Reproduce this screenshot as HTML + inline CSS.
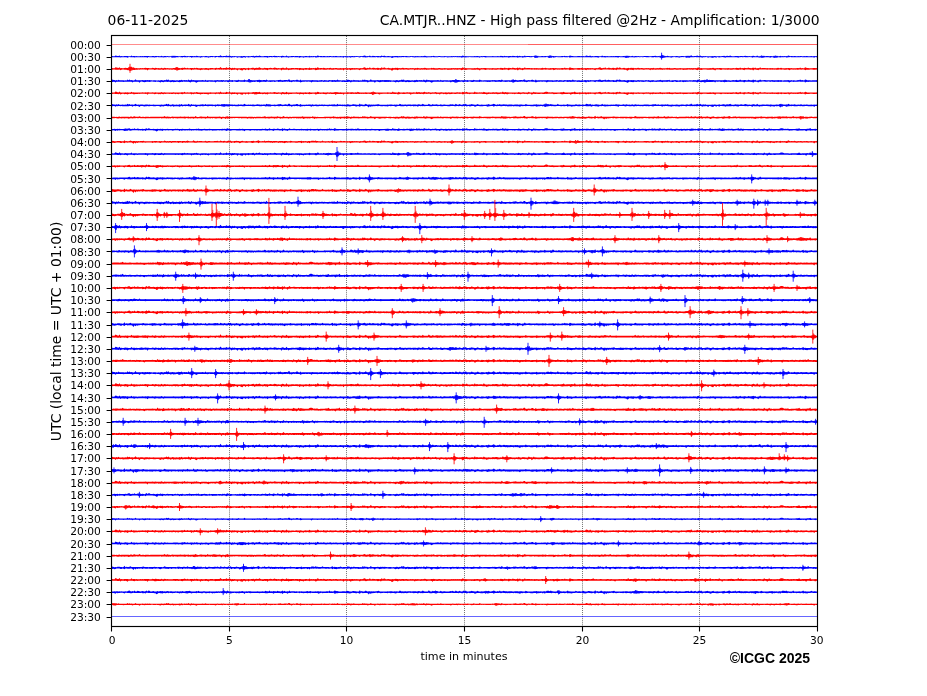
<!DOCTYPE html>
<html><head><meta charset="utf-8"><style>
html,body{margin:0;padding:0;background:#fff;}
svg{display:block;}
text{font-family:"DejaVu Sans","Liberation Sans",sans-serif;fill:#000;}
.tl{font-size:10.65px;}
.tt{font-size:13.9px;}
.xl{font-size:11.1px;}
.cp{font-family:"Liberation Sans",Arial,sans-serif;font-weight:bold;font-size:14px;}
</style></head><body>
<svg width="927" height="696" viewBox="0 0 927 696">
<rect width="927" height="696" fill="#fff"/>
<defs>
<clipPath id="ax"><rect x="111.5" y="35.5" width="706.0" height="591.0"/></clipPath>
<path id="t0" d="M0,-0.8 L1,-1.2 2,-0.8 3,-0.6 4,-0.7 5,-0.6 6,-1.0 7,-1.0 8,-0.9 9,-0.8 10,-0.7 11,-0.6 12,-0.7 13,-1.8 14,-0.6 15,-1.0 16,-0.7 17,-0.7 18,-0.9 19,-1.5 20,-0.8 21,-0.7 22,-0.8 23,-0.8 24,-0.7 25,-0.8 26,-0.7 27,-0.8 28,-0.7 29,-0.8 30,-0.8 31,-1.0 32,-1.2 33,-0.7 34,-0.7 35,-0.7 36,-0.7 37,-0.6 38,-0.7 39,-0.7 40,-0.7 41,-0.8 42,-0.7 43,-0.9 44,-0.8 45,-0.8 46,-0.6 47,-0.7 48,-0.8 49,-0.7 50,-0.8 51,-0.6 52,-0.7 53,-1.5 54,-1.0 55,-0.7 56,-0.8 57,-0.7 58,-0.8 59,-0.8 60,-0.7 61,-0.8 62,-0.8 63,-0.8 64,-0.8 65,-0.6 66,-0.9 67,-0.9 68,-0.9 69,-0.8 70,-0.7 71,-0.8 72,-1.0 73,-0.9 74,-0.7 75,-0.8 76,-1.5 77,-0.8 78,-0.7 79,-0.7 80,-0.7 81,-0.6 82,-1.7 83,-0.9 84,-0.7 85,-0.7 86,-1.3 87,-0.7 88,-0.8 89,-0.9 90,-1.0 91,-0.6 92,-0.7 93,-0.6 94,-1.2 95,-0.6 96,-0.6 97,-0.9 98,-0.9 99,-0.7 100,-0.7 101,-0.7 102,-0.7 103,-0.9 104,-1.0 105,-0.8 106,-1.2 107,-0.7 108,-0.6 109,-1.5 110,-0.9 111,-0.7 112,-0.8 113,-1.3 114,-0.7 115,-0.7 116,-0.8 117,-1.4 118,-0.8 119,-1.5 120,-0.7 121,-0.7 122,-0.7 123,-0.8 124,-0.8 125,-1.3 126,-0.8 127,-0.8 128,-0.6 129,-0.7 130,-0.8 131,-1.3 132,-0.7 133,-0.6 134,-0.6 135,-0.9 136,-0.7 137,-0.7 138,-0.6 139,-0.7 140,-0.9 141,-0.8 142,-1.3 143,-0.7 144,-0.7 145,-0.8 146,-1.1 147,-1.6 148,-1.0 149,-0.6 150,-0.6 151,-1.0 152,-0.7 153,-1.4 154,-0.7 155,-0.8 156,-0.8 157,-1.2 158,-0.9 159,-0.8 160,-0.9 161,-0.7 162,-0.8 163,-0.8 164,-0.9 165,-0.8 166,-0.7 167,-0.7 168,-0.8 169,-0.9 170,-0.8 171,-0.9 172,-0.6 173,-0.8 174,-0.8 175,-0.8 176,-0.7 177,-0.7 178,-0.7 179,-1.3 180,-0.8 181,-0.7 182,-0.7 183,-0.7 184,-0.6 185,-0.7 186,-0.7 187,-0.8 188,-0.8 189,-0.8 190,-1.1 191,-0.6 192,-0.8 193,-0.7 194,-0.8 195,-0.7 196,-0.7 197,-0.8 198,-0.8 199,-0.6 200,-1.2 201,-1.2 202,-1.2 203,-0.8 204,-1.4 205,-0.9 206,-0.9 207,-0.7 208,-0.7 209,-0.7 210,-0.7 211,-1.5 212,-0.7 213,-0.7 214,-0.7 215,-0.7 216,-0.7 217,-0.8 218,-0.6 219,-0.6 220,-0.9 221,-1.4 222,-0.6 223,-0.9 224,-0.7 225,-0.7 226,-0.6 227,-0.7 228,-0.7 229,-1.2 230,-0.8 231,-0.6 232,-0.8 233,-0.8 234,-0.7 235,-0.7 236,-0.7 L236,0.7 235,0.6 234,0.7 233,0.8 232,0.8 231,0.8 230,0.6 229,0.6 228,0.8 227,0.8 226,0.8 225,1.3 224,1.0 223,1.0 222,0.7 221,1.3 220,0.6 219,0.7 218,0.9 217,0.8 216,0.7 215,0.8 214,0.9 213,0.6 212,0.7 211,0.7 210,0.6 209,0.9 208,0.8 207,0.8 206,0.6 205,0.9 204,0.7 203,0.7 202,0.8 201,0.7 200,0.8 199,0.6 198,1.5 197,0.6 196,1.2 195,0.6 194,0.7 193,0.8 192,0.9 191,0.8 190,1.4 189,0.8 188,0.7 187,0.8 186,1.0 185,1.0 184,0.9 183,0.7 182,0.6 181,0.7 180,0.7 179,0.9 178,0.7 177,0.6 176,0.9 175,0.7 174,0.9 173,1.5 172,0.9 171,0.9 170,0.8 169,0.9 168,0.6 167,1.1 166,0.7 165,0.8 164,0.8 163,1.0 162,0.8 161,1.1 160,0.7 159,1.0 158,0.7 157,0.7 156,0.6 155,0.8 154,0.9 153,0.6 152,0.7 151,0.7 150,0.8 149,0.7 148,0.7 147,1.4 146,0.7 145,0.7 144,0.7 143,0.8 142,0.9 141,1.3 140,1.0 139,0.6 138,0.7 137,0.7 136,0.9 135,1.0 134,0.9 133,0.8 132,0.7 131,0.7 130,0.7 129,1.2 128,1.5 127,0.7 126,0.7 125,0.7 124,0.8 123,1.1 122,0.6 121,0.7 120,1.2 119,0.7 118,0.7 117,0.6 116,1.0 115,0.9 114,0.7 113,0.6 112,0.9 111,0.7 110,0.7 109,0.8 108,0.8 107,0.7 106,0.7 105,0.6 104,0.7 103,0.8 102,0.8 101,0.8 100,0.7 99,0.7 98,0.7 97,0.7 96,1.0 95,1.0 94,0.8 93,0.7 92,0.6 91,0.8 90,0.6 89,0.7 88,0.7 87,0.7 86,0.7 85,1.0 84,1.0 83,1.0 82,0.6 81,0.7 80,0.7 79,0.7 78,0.8 77,0.7 76,0.9 75,0.7 74,0.9 73,0.6 72,0.7 71,1.3 70,0.7 69,0.8 68,0.7 67,1.1 66,0.7 65,0.6 64,0.8 63,0.6 62,0.6 61,0.7 60,1.1 59,0.7 58,0.7 57,1.0 56,0.8 55,0.9 54,0.8 53,0.7 52,0.7 51,0.6 50,0.8 49,1.3 48,1.0 47,0.7 46,0.7 45,0.7 44,0.9 43,0.7 42,0.6 41,1.1 40,0.8 39,0.8 38,0.8 37,0.6 36,0.8 35,0.8 34,0.9 33,0.7 32,0.6 31,1.0 30,0.6 29,0.6 28,0.8 27,0.7 26,1.1 25,0.7 24,1.6 23,0.7 22,2.1 21,1.1 20,0.7 19,0.7 18,0.8 17,0.8 16,0.9 15,0.6 14,0.6 13,1.4 12,0.9 11,0.6 10,1.1 9,1.1 8,0.7 7,0.7 6,0.6 5,0.7 4,1.0 3,1.2 2,0.9 1,1.0 0,0.8Z"/>
<path id="t1" d="M0,-0.7 L1,-1.4 2,-0.9 3,-0.9 4,-0.6 5,-1.0 6,-0.6 7,-1.3 8,-0.7 9,-0.7 10,-0.7 11,-0.8 12,-0.7 13,-0.6 14,-0.8 15,-0.6 16,-1.6 17,-0.8 18,-1.4 19,-0.7 20,-0.9 21,-0.8 22,-0.6 23,-0.8 24,-1.7 25,-0.8 26,-0.7 27,-0.8 28,-0.7 29,-0.8 30,-0.8 31,-0.9 32,-0.7 33,-0.7 34,-0.9 35,-0.8 36,-0.9 37,-0.7 38,-0.9 39,-0.7 40,-0.7 41,-0.6 42,-0.8 43,-0.7 44,-0.7 45,-0.6 46,-0.6 47,-0.7 48,-0.6 49,-0.7 50,-0.9 51,-0.7 52,-0.6 53,-0.9 54,-0.8 55,-1.6 56,-0.9 57,-1.6 58,-0.6 59,-0.7 60,-0.7 61,-1.0 62,-0.8 63,-0.7 64,-0.6 65,-0.8 66,-0.7 67,-0.6 68,-1.0 69,-0.7 70,-1.3 71,-0.7 72,-0.7 73,-0.9 74,-0.8 75,-0.9 76,-0.6 77,-1.5 78,-0.8 79,-0.7 80,-1.4 81,-0.7 82,-0.9 83,-0.7 84,-0.8 85,-0.7 86,-0.7 87,-0.7 88,-0.7 89,-0.8 90,-0.8 91,-1.0 92,-0.8 93,-0.6 94,-1.3 95,-0.6 96,-0.8 97,-0.8 98,-0.8 99,-0.8 100,-0.8 101,-0.8 102,-0.6 103,-0.7 104,-0.8 105,-0.7 106,-1.0 107,-0.8 108,-0.8 109,-0.7 110,-1.0 111,-0.8 112,-0.9 113,-0.6 114,-0.7 115,-0.8 116,-0.7 117,-0.8 118,-1.1 119,-0.8 120,-0.8 121,-0.9 122,-0.6 123,-0.8 124,-0.7 125,-0.7 126,-0.7 127,-1.2 128,-0.7 129,-0.8 130,-0.8 131,-0.7 132,-0.8 133,-1.5 134,-0.8 135,-0.7 136,-0.6 137,-0.8 138,-0.7 139,-0.8 140,-0.7 141,-0.8 142,-0.8 143,-0.7 144,-0.7 145,-0.8 146,-1.0 147,-0.8 148,-0.9 149,-0.7 150,-0.8 151,-0.7 152,-0.9 153,-0.9 154,-0.7 155,-1.6 156,-0.7 157,-0.6 158,-0.7 159,-0.7 160,-0.7 161,-0.7 162,-0.7 163,-0.8 164,-0.6 165,-0.7 166,-0.8 167,-1.1 168,-1.0 169,-1.3 170,-0.8 171,-0.7 172,-0.7 173,-0.9 174,-1.0 175,-0.9 176,-0.7 177,-1.5 178,-1.5 179,-0.6 180,-0.7 181,-0.7 182,-0.9 183,-0.8 184,-0.8 185,-1.3 186,-1.3 187,-0.7 188,-0.6 189,-1.4 190,-0.6 191,-0.7 192,-0.7 193,-0.7 194,-0.7 195,-0.8 196,-0.7 197,-0.8 198,-0.8 199,-0.8 200,-0.7 201,-1.0 202,-0.7 203,-0.7 204,-0.8 205,-0.8 206,-0.7 207,-0.6 208,-0.8 209,-0.7 210,-0.9 211,-0.8 212,-0.6 213,-0.9 214,-0.7 215,-0.7 216,-0.6 217,-0.7 218,-0.9 219,-0.7 220,-0.8 221,-0.9 222,-0.8 223,-1.1 224,-0.7 225,-0.7 226,-1.6 227,-0.7 228,-0.8 229,-0.8 230,-0.6 231,-0.8 232,-0.7 233,-0.8 234,-0.6 235,-0.7 236,-0.7 L236,1.0 235,0.9 234,0.9 233,1.0 232,0.7 231,1.0 230,0.7 229,0.6 228,0.7 227,0.7 226,0.8 225,0.8 224,0.9 223,0.8 222,0.8 221,0.9 220,0.7 219,0.6 218,0.6 217,0.9 216,0.8 215,0.7 214,0.7 213,0.7 212,0.9 211,0.6 210,0.7 209,0.7 208,0.7 207,0.8 206,0.9 205,0.8 204,0.7 203,0.7 202,0.8 201,0.7 200,1.5 199,0.8 198,0.7 197,0.6 196,0.7 195,0.7 194,0.6 193,0.8 192,0.7 191,0.8 190,0.9 189,1.4 188,0.8 187,0.7 186,0.8 185,0.7 184,0.6 183,0.8 182,0.6 181,0.8 180,1.3 179,0.7 178,0.9 177,0.6 176,0.8 175,0.6 174,0.7 173,0.7 172,0.7 171,0.9 170,0.7 169,0.7 168,0.8 167,0.9 166,0.6 165,0.6 164,0.8 163,0.9 162,0.6 161,0.7 160,0.7 159,1.1 158,0.8 157,0.8 156,0.6 155,0.8 154,1.1 153,0.7 152,0.7 151,0.7 150,0.8 149,1.0 148,0.8 147,0.6 146,0.7 145,0.6 144,0.7 143,0.9 142,0.8 141,0.9 140,0.7 139,0.7 138,0.6 137,0.7 136,0.6 135,0.7 134,0.6 133,0.9 132,0.8 131,0.8 130,0.7 129,0.7 128,0.6 127,0.8 126,0.9 125,1.0 124,0.8 123,0.6 122,0.6 121,0.9 120,0.7 119,0.7 118,0.6 117,1.2 116,0.9 115,0.6 114,0.7 113,0.8 112,0.6 111,1.0 110,0.8 109,0.7 108,0.7 107,0.8 106,0.6 105,0.7 104,1.5 103,0.7 102,0.7 101,0.8 100,0.7 99,0.7 98,0.6 97,0.8 96,0.9 95,0.7 94,0.7 93,0.7 92,0.8 91,0.8 90,0.7 89,0.8 88,0.8 87,0.7 86,0.9 85,1.7 84,1.2 83,0.7 82,0.7 81,0.7 80,0.7 79,1.4 78,0.9 77,0.8 76,0.7 75,0.7 74,0.8 73,0.7 72,0.6 71,1.1 70,0.7 69,1.0 68,1.3 67,0.9 66,0.8 65,0.8 64,1.0 63,0.9 62,1.3 61,0.7 60,0.9 59,1.2 58,0.7 57,0.8 56,0.9 55,0.7 54,0.7 53,0.7 52,1.2 51,0.9 50,0.8 49,1.4 48,1.0 47,0.7 46,0.7 45,0.6 44,0.9 43,0.8 42,0.8 41,0.6 40,0.6 39,0.7 38,0.9 37,0.8 36,0.7 35,0.8 34,0.9 33,1.2 32,0.9 31,0.7 30,0.6 29,0.7 28,1.7 27,0.8 26,0.7 25,0.7 24,0.8 23,0.7 22,0.7 21,1.4 20,0.7 19,0.7 18,0.7 17,0.8 16,0.8 15,0.8 14,0.8 13,0.8 12,1.0 11,0.8 10,0.7 9,0.8 8,0.7 7,0.7 6,0.8 5,0.7 4,1.5 3,0.7 2,0.7 1,0.9 0,0.9Z"/>
<path id="t2" d="M0,-0.7 L1,-0.7 2,-0.7 3,-0.7 4,-0.6 5,-0.8 6,-0.6 7,-0.9 8,-1.1 9,-0.6 10,-0.7 11,-0.8 12,-0.7 13,-0.8 14,-0.9 15,-0.7 16,-0.7 17,-0.7 18,-0.6 19,-1.0 20,-1.0 21,-0.6 22,-1.1 23,-1.3 24,-0.9 25,-0.9 26,-0.8 27,-0.7 28,-1.4 29,-0.7 30,-0.6 31,-0.7 32,-0.8 33,-0.6 34,-0.9 35,-0.7 36,-0.7 37,-0.8 38,-0.6 39,-0.7 40,-0.8 41,-0.7 42,-0.7 43,-0.7 44,-0.7 45,-0.7 46,-0.7 47,-0.8 48,-0.7 49,-0.7 50,-0.7 51,-0.7 52,-0.8 53,-1.5 54,-0.7 55,-0.7 56,-1.2 57,-0.7 58,-0.7 59,-0.6 60,-0.8 61,-1.1 62,-0.8 63,-0.7 64,-0.8 65,-0.7 66,-0.8 67,-0.8 68,-0.7 69,-1.1 70,-0.7 71,-0.8 72,-0.7 73,-1.0 74,-0.9 75,-0.7 76,-0.7 77,-1.0 78,-0.6 79,-0.7 80,-0.7 81,-0.8 82,-0.7 83,-0.6 84,-1.6 85,-0.7 86,-0.6 87,-0.6 88,-0.7 89,-1.1 90,-1.1 91,-0.7 92,-0.7 93,-0.7 94,-0.7 95,-0.6 96,-1.5 97,-0.8 98,-0.8 99,-0.7 100,-0.8 101,-0.7 102,-0.7 103,-0.8 104,-0.7 105,-0.8 106,-0.9 107,-0.8 108,-1.1 109,-0.7 110,-0.6 111,-0.9 112,-0.8 113,-0.6 114,-0.7 115,-1.0 116,-1.4 117,-0.7 118,-0.8 119,-0.7 120,-0.7 121,-0.9 122,-0.9 123,-0.7 124,-0.7 125,-0.8 126,-0.8 127,-0.7 128,-0.7 129,-0.7 130,-0.8 131,-0.7 132,-0.7 133,-0.7 134,-0.9 135,-0.9 136,-0.6 137,-0.9 138,-0.7 139,-0.7 140,-0.7 141,-0.7 142,-0.6 143,-0.7 144,-0.6 145,-0.7 146,-0.7 147,-0.9 148,-0.8 149,-0.7 150,-0.6 151,-0.8 152,-0.8 153,-1.4 154,-1.2 155,-0.6 156,-0.8 157,-0.9 158,-0.7 159,-0.8 160,-1.2 161,-0.8 162,-0.8 163,-0.8 164,-0.8 165,-0.7 166,-1.3 167,-0.7 168,-0.7 169,-0.7 170,-0.6 171,-0.7 172,-1.6 173,-0.7 174,-0.6 175,-0.8 176,-0.7 177,-0.6 178,-0.7 179,-0.7 180,-0.6 181,-0.7 182,-0.9 183,-0.7 184,-0.7 185,-0.7 186,-0.7 187,-0.7 188,-0.7 189,-0.7 190,-0.7 191,-1.4 192,-0.8 193,-0.8 194,-0.7 195,-0.7 196,-0.7 197,-0.7 198,-0.7 199,-0.7 200,-0.6 201,-1.4 202,-0.7 203,-0.7 204,-0.8 205,-0.6 206,-0.9 207,-0.6 208,-0.6 209,-0.6 210,-0.6 211,-0.6 212,-0.6 213,-0.9 214,-0.7 215,-0.8 216,-0.7 217,-0.7 218,-0.7 219,-0.8 220,-0.7 221,-0.9 222,-1.3 223,-0.8 224,-0.7 225,-0.6 226,-0.7 227,-0.6 228,-0.8 229,-0.7 230,-0.7 231,-0.7 232,-0.7 233,-1.1 234,-0.7 235,-0.8 236,-0.8 L236,0.8 235,0.8 234,0.7 233,1.4 232,0.7 231,0.7 230,0.8 229,1.5 228,0.7 227,0.9 226,1.0 225,1.1 224,0.7 223,0.7 222,0.9 221,0.6 220,0.8 219,1.0 218,0.8 217,0.6 216,0.8 215,0.6 214,0.9 213,0.7 212,0.7 211,0.7 210,0.7 209,0.7 208,0.7 207,0.7 206,0.8 205,0.9 204,0.7 203,1.5 202,0.8 201,0.7 200,0.6 199,0.7 198,1.0 197,0.7 196,0.9 195,0.7 194,0.7 193,0.9 192,1.6 191,0.8 190,0.8 189,1.0 188,0.7 187,0.9 186,0.7 185,1.0 184,0.6 183,0.8 182,0.8 181,0.6 180,1.0 179,0.7 178,0.7 177,1.2 176,0.7 175,0.7 174,0.8 173,0.7 172,0.8 171,1.0 170,0.7 169,1.3 168,0.7 167,0.6 166,0.7 165,0.9 164,0.8 163,1.2 162,0.7 161,0.8 160,0.8 159,0.7 158,1.0 157,0.9 156,0.7 155,0.7 154,0.9 153,0.7 152,0.8 151,0.7 150,0.8 149,0.7 148,0.7 147,0.7 146,0.7 145,0.8 144,0.9 143,0.6 142,1.2 141,0.8 140,0.9 139,1.0 138,0.8 137,0.7 136,1.3 135,0.7 134,0.7 133,0.7 132,0.8 131,0.7 130,0.9 129,0.6 128,0.7 127,0.8 126,0.6 125,0.6 124,0.6 123,0.7 122,0.6 121,0.7 120,0.7 119,0.7 118,0.7 117,1.0 116,1.2 115,0.7 114,1.6 113,0.7 112,0.8 111,0.7 110,1.7 109,0.7 108,0.7 107,0.8 106,0.7 105,0.9 104,0.9 103,0.8 102,0.6 101,0.9 100,0.6 99,0.9 98,0.8 97,0.8 96,0.7 95,0.8 94,1.2 93,0.7 92,0.8 91,0.7 90,1.0 89,0.8 88,0.8 87,0.7 86,0.9 85,0.7 84,0.8 83,0.8 82,1.2 81,0.7 80,0.7 79,0.9 78,0.8 77,0.9 76,0.7 75,0.6 74,0.9 73,1.0 72,0.7 71,0.8 70,0.8 69,0.7 68,0.8 67,0.7 66,0.9 65,0.7 64,0.7 63,0.6 62,0.9 61,0.7 60,0.6 59,0.9 58,0.8 57,1.0 56,0.7 55,0.9 54,0.7 53,0.7 52,0.8 51,0.8 50,0.9 49,0.6 48,0.7 47,0.8 46,0.7 45,0.7 44,0.8 43,0.7 42,0.8 41,0.7 40,0.8 39,0.7 38,0.8 37,0.7 36,0.7 35,0.7 34,0.9 33,0.8 32,0.8 31,0.7 30,0.7 29,0.8 28,0.6 27,0.8 26,0.7 25,0.6 24,0.7 23,0.8 22,0.8 21,0.9 20,0.7 19,0.8 18,0.9 17,1.3 16,0.8 15,0.7 14,0.7 13,1.1 12,0.7 11,0.7 10,0.9 9,0.8 8,0.7 7,0.9 6,0.9 5,0.8 4,0.6 3,0.7 2,0.8 1,0.8 0,1.3Z"/>
<path id="t3" d="M0,-0.6 L1,-0.8 2,-0.6 3,-0.7 4,-1.7 5,-1.4 6,-1.0 7,-0.8 8,-1.7 9,-0.7 10,-0.8 11,-0.7 12,-0.6 13,-0.8 14,-1.0 15,-0.8 16,-0.9 17,-0.7 18,-0.7 19,-0.7 20,-1.5 21,-0.6 22,-0.9 23,-0.8 24,-0.7 25,-0.8 26,-0.6 27,-0.7 28,-0.7 29,-0.8 30,-0.7 31,-0.9 32,-0.7 33,-0.8 34,-1.0 35,-0.8 36,-0.9 37,-0.9 38,-0.7 39,-0.7 40,-0.7 41,-1.1 42,-0.8 43,-0.7 44,-1.1 45,-0.8 46,-0.7 47,-0.8 48,-0.7 49,-0.7 50,-1.2 51,-0.7 52,-0.6 53,-1.1 54,-0.8 55,-0.7 56,-0.8 57,-0.7 58,-0.7 59,-0.7 60,-0.7 61,-0.7 62,-0.9 63,-0.8 64,-0.8 65,-0.8 66,-0.8 67,-0.7 68,-0.7 69,-0.7 70,-0.9 71,-1.0 72,-0.8 73,-1.4 74,-0.8 75,-0.7 76,-1.1 77,-0.7 78,-0.7 79,-0.9 80,-0.9 81,-0.8 82,-0.7 83,-1.1 84,-0.7 85,-1.2 86,-0.9 87,-0.7 88,-0.6 89,-0.6 90,-0.8 91,-0.7 92,-0.7 93,-0.7 94,-0.8 95,-0.8 96,-0.6 97,-0.7 98,-0.6 99,-0.9 100,-0.8 101,-0.8 102,-0.7 103,-0.7 104,-0.8 105,-1.0 106,-0.7 107,-0.9 108,-0.8 109,-1.9 110,-0.8 111,-0.6 112,-0.8 113,-0.8 114,-0.8 115,-1.5 116,-0.9 117,-0.8 118,-1.5 119,-0.8 120,-0.7 121,-1.0 122,-0.7 123,-1.0 124,-0.7 125,-0.7 126,-0.7 127,-0.7 128,-0.6 129,-0.7 130,-0.8 131,-0.7 132,-0.8 133,-0.8 134,-0.7 135,-0.7 136,-0.7 137,-1.0 138,-0.7 139,-0.7 140,-0.8 141,-1.0 142,-1.2 143,-0.6 144,-0.9 145,-1.2 146,-0.8 147,-1.0 148,-1.5 149,-0.8 150,-0.7 151,-0.7 152,-0.6 153,-1.0 154,-0.8 155,-0.8 156,-0.9 157,-0.7 158,-0.8 159,-1.1 160,-0.8 161,-0.7 162,-0.9 163,-1.3 164,-1.0 165,-0.8 166,-0.7 167,-0.9 168,-0.7 169,-0.7 170,-0.8 171,-1.2 172,-1.0 173,-0.7 174,-0.7 175,-1.6 176,-0.7 177,-0.7 178,-0.7 179,-0.6 180,-0.8 181,-0.8 182,-0.8 183,-0.6 184,-0.8 185,-0.9 186,-0.8 187,-0.7 188,-0.8 189,-0.9 190,-0.7 191,-0.6 192,-0.6 193,-0.7 194,-0.9 195,-0.8 196,-0.7 197,-0.7 198,-1.3 199,-0.7 200,-0.8 201,-0.7 202,-0.8 203,-0.7 204,-1.0 205,-0.7 206,-1.6 207,-1.2 208,-0.6 209,-0.8 210,-0.8 211,-0.6 212,-1.1 213,-0.8 214,-0.7 215,-0.7 216,-0.9 217,-0.6 218,-0.8 219,-1.0 220,-0.7 221,-0.7 222,-0.8 223,-0.7 224,-0.9 225,-0.8 226,-0.6 227,-0.6 228,-0.7 229,-0.9 230,-0.7 231,-0.7 232,-0.8 233,-0.7 234,-0.8 235,-0.7 236,-0.9 L236,1.1 235,0.7 234,0.7 233,0.6 232,1.6 231,0.7 230,0.8 229,0.8 228,0.8 227,0.8 226,0.9 225,0.7 224,0.7 223,0.7 222,0.8 221,0.8 220,0.9 219,0.6 218,0.8 217,0.7 216,0.7 215,1.0 214,1.0 213,0.8 212,0.8 211,0.7 210,0.7 209,0.8 208,0.6 207,0.8 206,0.8 205,1.1 204,1.3 203,0.6 202,0.7 201,0.7 200,0.8 199,0.8 198,1.1 197,0.8 196,0.7 195,0.8 194,0.9 193,0.7 192,1.4 191,0.9 190,0.9 189,0.8 188,1.5 187,0.7 186,0.9 185,0.7 184,0.7 183,0.7 182,0.6 181,0.7 180,0.9 179,0.9 178,0.9 177,1.4 176,0.7 175,1.0 174,0.9 173,1.0 172,0.8 171,0.7 170,1.7 169,0.6 168,0.7 167,0.6 166,0.8 165,0.9 164,0.7 163,0.8 162,0.6 161,0.7 160,0.7 159,0.6 158,0.7 157,0.7 156,1.5 155,0.8 154,1.0 153,0.7 152,0.9 151,1.0 150,0.7 149,0.8 148,0.8 147,0.8 146,0.8 145,0.8 144,0.8 143,1.5 142,0.7 141,0.9 140,0.6 139,0.7 138,0.7 137,1.3 136,0.7 135,0.6 134,1.4 133,0.7 132,0.7 131,1.6 130,1.4 129,1.1 128,0.7 127,0.7 126,1.6 125,0.8 124,0.6 123,0.8 122,0.9 121,0.9 120,1.4 119,0.7 118,0.7 117,0.7 116,0.7 115,0.9 114,0.8 113,0.6 112,0.9 111,0.7 110,0.8 109,0.7 108,1.0 107,0.7 106,0.6 105,0.6 104,1.1 103,0.7 102,0.6 101,0.7 100,0.6 99,0.8 98,0.7 97,1.4 96,1.0 95,0.8 94,0.9 93,0.8 92,0.6 91,0.9 90,0.8 89,1.5 88,0.8 87,0.8 86,0.9 85,0.7 84,0.7 83,0.7 82,1.0 81,0.7 80,1.5 79,0.6 78,0.7 77,0.6 76,0.7 75,0.7 74,0.7 73,0.7 72,0.6 71,1.2 70,0.9 69,0.7 68,0.6 67,1.0 66,0.8 65,0.7 64,1.0 63,0.6 62,0.6 61,0.8 60,0.8 59,0.6 58,0.8 57,0.7 56,0.6 55,0.7 54,0.8 53,0.7 52,1.1 51,0.8 50,0.7 49,1.0 48,0.9 47,1.0 46,0.6 45,0.7 44,0.9 43,1.1 42,0.7 41,0.7 40,0.7 39,0.7 38,0.7 37,0.6 36,1.6 35,0.7 34,0.9 33,0.7 32,0.7 31,0.7 30,0.7 29,0.7 28,0.8 27,0.7 26,0.9 25,0.8 24,0.8 23,1.2 22,1.0 21,0.7 20,0.7 19,0.8 18,0.6 17,0.8 16,1.5 15,0.9 14,0.8 13,1.0 12,0.7 11,0.7 10,0.8 9,1.3 8,0.7 7,1.0 6,0.9 5,0.8 4,0.8 3,0.7 2,0.7 1,0.8 0,0.7Z"/>
<path id="t4" d="M0,-0.7 L1,-0.6 2,-0.7 3,-0.9 4,-0.7 5,-0.8 6,-0.9 7,-0.6 8,-0.9 9,-0.7 10,-0.8 11,-0.7 12,-0.7 13,-0.7 14,-0.9 15,-0.7 16,-0.9 17,-1.3 18,-1.5 19,-0.8 20,-0.7 21,-1.0 22,-0.7 23,-1.5 24,-0.7 25,-0.7 26,-1.2 27,-1.0 28,-0.8 29,-0.7 30,-0.8 31,-1.0 32,-0.8 33,-0.6 34,-0.9 35,-1.6 36,-0.7 37,-1.4 38,-1.3 39,-0.7 40,-0.7 41,-0.8 42,-1.0 43,-0.7 44,-0.6 45,-0.7 46,-1.0 47,-0.7 48,-0.8 49,-1.1 50,-0.8 51,-1.0 52,-0.7 53,-0.8 54,-0.6 55,-0.8 56,-1.0 57,-0.8 58,-0.7 59,-0.8 60,-0.8 61,-0.7 62,-0.6 63,-0.7 64,-0.9 65,-0.6 66,-0.9 67,-0.7 68,-0.6 69,-0.8 70,-0.7 71,-1.0 72,-0.6 73,-0.6 74,-0.6 75,-0.8 76,-0.7 77,-0.8 78,-1.2 79,-0.8 80,-0.7 81,-0.7 82,-0.7 83,-0.7 84,-0.7 85,-1.0 86,-0.7 87,-1.2 88,-0.6 89,-0.6 90,-0.7 91,-0.7 92,-0.8 93,-0.9 94,-0.7 95,-0.7 96,-0.6 97,-0.6 98,-0.9 99,-0.6 100,-0.7 101,-0.7 102,-0.7 103,-0.7 104,-0.7 105,-0.8 106,-0.6 107,-0.8 108,-0.7 109,-0.8 110,-0.6 111,-0.9 112,-0.7 113,-0.9 114,-0.6 115,-0.9 116,-1.5 117,-0.9 118,-0.6 119,-0.8 120,-0.7 121,-0.6 122,-0.6 123,-0.6 124,-0.7 125,-0.6 126,-0.7 127,-0.6 128,-0.9 129,-0.7 130,-0.8 131,-1.0 132,-0.7 133,-0.7 134,-0.7 135,-0.8 136,-0.7 137,-0.8 138,-0.8 139,-0.8 140,-0.7 141,-0.6 142,-0.7 143,-0.7 144,-0.7 145,-0.6 146,-0.8 147,-0.7 148,-0.6 149,-0.6 150,-0.7 151,-0.9 152,-0.7 153,-0.7 154,-1.2 155,-0.8 156,-0.8 157,-0.7 158,-1.4 159,-0.7 160,-0.8 161,-0.7 162,-1.1 163,-0.9 164,-0.8 165,-0.6 166,-1.3 167,-0.9 168,-0.8 169,-0.7 170,-0.8 171,-1.4 172,-0.7 173,-1.3 174,-0.6 175,-0.6 176,-0.8 177,-0.7 178,-1.6 179,-0.7 180,-0.8 181,-0.8 182,-0.9 183,-0.9 184,-0.7 185,-0.8 186,-0.7 187,-0.7 188,-0.8 189,-0.7 190,-0.9 191,-0.7 192,-0.7 193,-0.7 194,-0.7 195,-0.8 196,-1.0 197,-0.7 198,-0.8 199,-1.0 200,-0.6 201,-0.6 202,-0.7 203,-0.7 204,-0.8 205,-0.7 206,-0.9 207,-0.8 208,-0.6 209,-0.9 210,-0.6 211,-0.7 212,-0.7 213,-0.6 214,-0.6 215,-0.8 216,-0.9 217,-0.7 218,-1.4 219,-0.7 220,-0.9 221,-0.7 222,-0.6 223,-1.5 224,-1.2 225,-0.8 226,-0.8 227,-0.7 228,-0.7 229,-0.6 230,-0.7 231,-0.8 232,-0.8 233,-0.8 234,-0.7 235,-1.0 236,-0.7 L236,0.6 235,1.0 234,0.7 233,0.8 232,0.8 231,0.8 230,0.7 229,0.7 228,0.7 227,0.8 226,0.9 225,0.8 224,0.9 223,1.5 222,0.6 221,0.7 220,0.7 219,0.8 218,0.7 217,0.6 216,0.8 215,0.8 214,0.7 213,0.8 212,0.7 211,0.9 210,0.6 209,0.7 208,0.9 207,1.4 206,0.7 205,0.7 204,0.8 203,0.8 202,0.8 201,0.7 200,0.6 199,1.0 198,0.7 197,0.7 196,1.0 195,0.8 194,0.8 193,0.7 192,0.9 191,0.7 190,0.8 189,0.6 188,0.9 187,0.6 186,0.6 185,0.8 184,0.7 183,0.7 182,0.6 181,0.6 180,0.6 179,0.7 178,0.7 177,0.7 176,1.5 175,0.8 174,0.8 173,0.7 172,0.7 171,1.7 170,0.7 169,0.9 168,0.8 167,0.7 166,0.7 165,0.7 164,0.7 163,0.7 162,1.4 161,0.8 160,0.7 159,0.7 158,0.8 157,0.7 156,1.1 155,0.9 154,0.9 153,0.7 152,0.7 151,0.7 150,0.8 149,0.8 148,0.9 147,0.7 146,0.8 145,0.8 144,0.7 143,0.8 142,0.7 141,0.7 140,0.7 139,1.1 138,0.8 137,0.6 136,0.7 135,0.7 134,0.6 133,1.6 132,0.8 131,0.8 130,0.7 129,0.8 128,0.9 127,0.9 126,0.8 125,0.9 124,0.7 123,0.6 122,0.7 121,0.7 120,0.9 119,1.2 118,0.9 117,0.7 116,0.8 115,1.4 114,0.8 113,0.7 112,0.7 111,0.8 110,0.8 109,0.6 108,0.8 107,0.6 106,0.7 105,0.8 104,0.8 103,0.9 102,0.8 101,1.2 100,0.7 99,0.6 98,0.9 97,0.7 96,0.8 95,0.9 94,0.9 93,0.6 92,0.6 91,0.9 90,1.0 89,0.8 88,0.8 87,0.8 86,0.6 85,0.9 84,0.7 83,0.7 82,0.8 81,0.7 80,1.2 79,0.7 78,0.8 77,0.7 76,0.8 75,0.7 74,0.9 73,0.8 72,0.7 71,0.8 70,1.0 69,0.7 68,1.3 67,0.7 66,0.7 65,0.6 64,0.6 63,0.7 62,0.8 61,1.0 60,0.7 59,0.7 58,0.6 57,0.9 56,0.6 55,0.7 54,0.9 53,0.7 52,0.7 51,1.3 50,0.9 49,0.9 48,0.8 47,0.7 46,1.5 45,1.8 44,1.0 43,0.9 42,0.8 41,0.7 40,0.7 39,0.7 38,0.7 37,0.7 36,0.6 35,0.6 34,1.3 33,0.7 32,0.9 31,1.1 30,0.6 29,0.8 28,0.7 27,0.8 26,0.7 25,0.7 24,0.7 23,0.7 22,0.6 21,0.7 20,0.9 19,1.1 18,0.8 17,0.7 16,0.7 15,0.6 14,0.6 13,1.3 12,0.8 11,0.6 10,0.6 9,0.6 8,0.8 7,0.7 6,1.0 5,0.6 4,1.5 3,0.9 2,0.7 1,0.8 0,0.8Z"/>
<path id="t5" d="M0,-0.9 L1,-0.6 2,-0.9 3,-0.8 4,-1.0 5,-1.0 6,-0.9 7,-0.8 8,-0.7 9,-1.0 10,-0.8 11,-1.6 12,-0.9 13,-0.7 14,-0.8 15,-0.7 16,-0.6 17,-0.7 18,-0.8 19,-0.9 20,-0.6 21,-0.7 22,-0.7 23,-0.7 24,-0.6 25,-0.9 26,-0.8 27,-0.7 28,-0.7 29,-0.8 30,-0.6 31,-0.6 32,-0.7 33,-0.6 34,-0.7 35,-0.7 36,-0.7 37,-0.8 38,-0.7 39,-0.8 40,-0.7 41,-0.9 42,-0.8 43,-0.7 44,-0.8 45,-0.6 46,-1.7 47,-0.7 48,-1.0 49,-0.8 50,-0.8 51,-0.7 52,-1.4 53,-0.7 54,-0.8 55,-0.7 56,-0.8 57,-1.1 58,-0.7 59,-0.8 60,-0.9 61,-0.9 62,-0.8 63,-0.9 64,-0.7 65,-0.8 66,-0.8 67,-1.0 68,-0.7 69,-0.7 70,-1.5 71,-0.7 72,-1.3 73,-0.9 74,-0.6 75,-0.9 76,-0.7 77,-1.3 78,-1.4 79,-0.6 80,-0.9 81,-0.8 82,-1.2 83,-0.7 84,-0.8 85,-0.6 86,-1.1 87,-0.7 88,-0.9 89,-1.2 90,-0.7 91,-0.7 92,-0.7 93,-0.7 94,-0.9 95,-0.9 96,-0.7 97,-0.7 98,-0.7 99,-0.9 100,-0.6 101,-0.7 102,-0.9 103,-0.7 104,-0.8 105,-1.0 106,-0.7 107,-0.7 108,-0.8 109,-0.8 110,-0.9 111,-0.9 112,-0.7 113,-0.9 114,-0.7 115,-0.7 116,-1.4 117,-1.0 118,-0.9 119,-0.9 120,-1.4 121,-0.6 122,-0.7 123,-0.7 124,-0.6 125,-0.8 126,-0.8 127,-0.6 128,-1.7 129,-0.7 130,-1.0 131,-0.8 132,-0.7 133,-0.9 134,-0.8 135,-0.9 136,-0.7 137,-1.6 138,-0.9 139,-0.7 140,-0.7 141,-0.7 142,-0.9 143,-0.7 144,-0.7 145,-0.6 146,-1.0 147,-0.9 148,-0.8 149,-1.1 150,-1.0 151,-0.8 152,-0.7 153,-0.7 154,-0.9 155,-0.7 156,-1.7 157,-0.8 158,-0.9 159,-1.3 160,-0.7 161,-0.9 162,-0.6 163,-0.8 164,-0.8 165,-0.7 166,-0.7 167,-0.7 168,-0.6 169,-0.7 170,-0.8 171,-0.7 172,-1.2 173,-0.7 174,-0.7 175,-0.7 176,-1.0 177,-0.9 178,-0.8 179,-0.7 180,-0.7 181,-0.6 182,-1.5 183,-0.8 184,-0.8 185,-0.8 186,-0.7 187,-1.5 188,-0.7 189,-0.9 190,-0.6 191,-0.7 192,-0.7 193,-0.7 194,-0.7 195,-0.8 196,-0.7 197,-0.7 198,-1.3 199,-1.6 200,-1.6 201,-1.3 202,-0.8 203,-0.9 204,-0.7 205,-0.9 206,-0.9 207,-0.6 208,-0.6 209,-0.8 210,-0.7 211,-0.8 212,-0.8 213,-0.7 214,-0.9 215,-0.9 216,-1.0 217,-1.5 218,-0.7 219,-0.6 220,-0.8 221,-0.8 222,-0.8 223,-0.8 224,-0.8 225,-1.0 226,-0.9 227,-0.9 228,-1.7 229,-0.6 230,-0.7 231,-0.7 232,-0.7 233,-0.9 234,-0.7 235,-0.8 236,-1.3 L236,0.9 235,0.9 234,0.7 233,1.3 232,0.6 231,0.8 230,0.8 229,0.9 228,1.0 227,0.7 226,0.8 225,0.8 224,1.6 223,0.9 222,0.7 221,0.9 220,0.8 219,0.9 218,0.9 217,0.9 216,1.0 215,1.0 214,0.8 213,0.6 212,0.6 211,0.7 210,0.8 209,0.9 208,0.8 207,1.0 206,0.7 205,0.7 204,0.7 203,0.7 202,0.6 201,0.6 200,0.8 199,0.6 198,0.8 197,0.8 196,0.8 195,0.7 194,0.7 193,0.9 192,0.9 191,0.8 190,0.6 189,0.9 188,0.9 187,0.6 186,0.9 185,1.6 184,0.7 183,0.7 182,0.7 181,1.2 180,0.8 179,0.7 178,0.8 177,0.7 176,0.6 175,0.7 174,1.2 173,0.8 172,0.9 171,0.9 170,0.7 169,0.7 168,1.0 167,0.7 166,0.8 165,0.7 164,0.7 163,0.7 162,0.7 161,1.0 160,1.0 159,0.7 158,1.0 157,0.8 156,0.8 155,0.7 154,0.7 153,0.8 152,0.9 151,1.0 150,0.9 149,0.7 148,0.9 147,0.6 146,0.9 145,0.7 144,0.8 143,0.7 142,0.8 141,0.8 140,1.5 139,0.8 138,0.8 137,0.8 136,0.9 135,0.6 134,0.7 133,0.7 132,0.7 131,0.7 130,0.8 129,0.7 128,0.9 127,0.8 126,0.7 125,0.7 124,0.7 123,1.0 122,0.7 121,0.8 120,0.7 119,0.7 118,0.7 117,0.8 116,1.3 115,0.7 114,0.7 113,0.9 112,0.7 111,0.7 110,0.7 109,0.9 108,0.8 107,0.7 106,0.7 105,0.8 104,0.8 103,1.0 102,0.6 101,0.8 100,1.2 99,1.0 98,0.7 97,1.0 96,0.6 95,0.7 94,0.6 93,1.4 92,0.9 91,0.7 90,1.1 89,0.7 88,0.7 87,0.7 86,0.7 85,0.7 84,1.1 83,0.7 82,0.6 81,0.7 80,0.8 79,0.7 78,0.7 77,1.0 76,0.9 75,0.7 74,0.9 73,0.9 72,0.7 71,0.8 70,0.8 69,0.7 68,0.7 67,0.6 66,0.8 65,0.7 64,1.6 63,0.8 62,0.7 61,0.7 60,0.7 59,0.6 58,0.8 57,0.8 56,0.8 55,0.7 54,0.7 53,0.9 52,1.1 51,1.4 50,0.6 49,0.9 48,0.9 47,0.9 46,0.7 45,0.9 44,0.9 43,0.6 42,0.7 41,0.8 40,0.7 39,0.7 38,0.7 37,0.7 36,0.6 35,0.8 34,0.7 33,1.3 32,1.0 31,0.7 30,0.7 29,0.8 28,0.9 27,0.7 26,0.7 25,0.7 24,0.9 23,0.8 22,0.7 21,0.6 20,0.8 19,0.8 18,0.7 17,0.8 16,0.7 15,0.8 14,0.7 13,0.8 12,0.8 11,0.7 10,0.8 9,0.8 8,0.7 7,0.8 6,0.7 5,0.9 4,0.9 3,0.7 2,0.7 1,0.8 0,0.6Z"/>
</defs>
<line x1="229.5" y1="36" x2="229.5" y2="626" stroke="#000" stroke-width="0.75" stroke-dasharray="1,1.05" opacity="0.75"/>
<line x1="346.5" y1="36" x2="346.5" y2="626" stroke="#000" stroke-width="0.75" stroke-dasharray="1,1.05" opacity="0.75"/>
<line x1="464.5" y1="36" x2="464.5" y2="626" stroke="#000" stroke-width="0.75" stroke-dasharray="1,1.05" opacity="0.75"/>
<line x1="582.5" y1="36" x2="582.5" y2="626" stroke="#000" stroke-width="0.75" stroke-dasharray="1,1.05" opacity="0.75"/>
<line x1="699.5" y1="36" x2="699.5" y2="626" stroke="#000" stroke-width="0.75" stroke-dasharray="1,1.05" opacity="0.75"/>
<g clip-path="url(#ax)">
<line x1="111.5" y1="44.50" x2="528" y2="44.50" stroke="#ff0000" stroke-width="1" opacity="0.45"/>
<line x1="528" y1="44.50" x2="817.5" y2="44.50" stroke="#ff0000" stroke-width="1.1" opacity="0.62"/>
<g fill="#0000ff"><use href="#t3" transform="translate(111.50,56.67) scale(1,0.70)"/><use href="#t4" transform="translate(346.83,56.67) scale(1,0.70)"/><use href="#t3" transform="translate(582.16,56.67) scale(1,0.70)"/></g>
<g fill="#ff0000"><use href="#t3" transform="translate(111.50,68.84) scale(1,1.00)"/><use href="#t4" transform="translate(346.83,68.84) scale(1,1.00)"/><use href="#t4" transform="translate(582.16,68.84) scale(1,1.00)"/></g>
<g fill="#0000ff"><use href="#t1" transform="translate(111.50,81.01) scale(1,1.00)"/><use href="#t1" transform="translate(346.83,81.01) scale(1,1.00)"/><use href="#t4" transform="translate(582.16,81.01) scale(1,1.00)"/></g>
<g fill="#ff0000"><use href="#t3" transform="translate(111.50,93.18) scale(1,0.95)"/><use href="#t5" transform="translate(346.83,93.18) scale(1,0.95)"/><use href="#t4" transform="translate(582.16,93.18) scale(1,0.95)"/></g>
<g fill="#0000ff"><use href="#t1" transform="translate(111.50,105.35) scale(1,1.00)"/><use href="#t0" transform="translate(346.83,105.35) scale(1,1.00)"/><use href="#t3" transform="translate(582.16,105.35) scale(1,1.00)"/></g>
<g fill="#ff0000"><use href="#t2" transform="translate(111.50,117.52) scale(1,0.95)"/><use href="#t1" transform="translate(346.83,117.52) scale(1,0.95)"/><use href="#t0" transform="translate(582.16,117.52) scale(1,0.95)"/></g>
<g fill="#0000ff"><use href="#t4" transform="translate(111.50,129.69) scale(1,0.95)"/><use href="#t5" transform="translate(346.83,129.69) scale(1,0.95)"/><use href="#t5" transform="translate(582.16,129.69) scale(1,0.95)"/></g>
<g fill="#ff0000"><use href="#t0" transform="translate(111.50,141.86) scale(1,0.95)"/><use href="#t4" transform="translate(346.83,141.86) scale(1,0.95)"/><use href="#t3" transform="translate(582.16,141.86) scale(1,0.95)"/></g>
<g fill="#0000ff"><use href="#t3" transform="translate(111.50,154.03) scale(1,1.00)"/><use href="#t5" transform="translate(346.83,154.03) scale(1,1.00)"/><use href="#t5" transform="translate(582.16,154.03) scale(1,1.00)"/></g>
<g fill="#ff0000"><use href="#t4" transform="translate(111.50,166.20) scale(1,1.00)"/><use href="#t5" transform="translate(346.83,166.20) scale(1,1.00)"/><use href="#t1" transform="translate(582.16,166.20) scale(1,1.00)"/></g>
<g fill="#0000ff"><use href="#t4" transform="translate(111.50,178.37) scale(1,1.10)"/><use href="#t0" transform="translate(346.83,178.37) scale(1,1.10)"/><use href="#t4" transform="translate(582.16,178.37) scale(1,1.10)"/></g>
<g fill="#ff0000"><use href="#t0" transform="translate(111.50,190.54) scale(1,1.18)"/><use href="#t0" transform="translate(346.83,190.54) scale(1,1.18)"/><use href="#t0" transform="translate(582.16,190.54) scale(1,1.18)"/></g>
<g fill="#0000ff"><use href="#t1" transform="translate(111.50,202.71) scale(1,1.18)"/><use href="#t1" transform="translate(346.83,202.71) scale(1,1.18)"/><use href="#t4" transform="translate(582.16,202.71) scale(1,1.18)"/></g>
<g fill="#ff0000"><use href="#t0" transform="translate(111.50,214.88) scale(1,1.18)"/><use href="#t3" transform="translate(346.83,214.88) scale(1,1.18)"/><use href="#t2" transform="translate(582.16,214.88) scale(1,1.18)"/></g>
<g fill="#0000ff"><use href="#t3" transform="translate(111.50,227.05) scale(1,1.18)"/><use href="#t4" transform="translate(346.83,227.05) scale(1,1.18)"/><use href="#t1" transform="translate(582.16,227.05) scale(1,1.18)"/></g>
<g fill="#ff0000"><use href="#t4" transform="translate(111.50,239.22) scale(1,1.18)"/><use href="#t1" transform="translate(346.83,239.22) scale(1,1.18)"/><use href="#t5" transform="translate(582.16,239.22) scale(1,1.18)"/></g>
<g fill="#0000ff"><use href="#t2" transform="translate(111.50,251.39) scale(1,1.18)"/><use href="#t3" transform="translate(346.83,251.39) scale(1,1.18)"/><use href="#t0" transform="translate(582.16,251.39) scale(1,1.18)"/></g>
<g fill="#ff0000"><use href="#t5" transform="translate(111.50,263.56) scale(1,1.18)"/><use href="#t0" transform="translate(346.83,263.56) scale(1,1.18)"/><use href="#t3" transform="translate(582.16,263.56) scale(1,1.18)"/></g>
<g fill="#0000ff"><use href="#t5" transform="translate(111.50,275.73) scale(1,1.18)"/><use href="#t2" transform="translate(346.83,275.73) scale(1,1.18)"/><use href="#t3" transform="translate(582.16,275.73) scale(1,1.18)"/></g>
<g fill="#ff0000"><use href="#t4" transform="translate(111.50,287.90) scale(1,1.18)"/><use href="#t0" transform="translate(346.83,287.90) scale(1,1.18)"/><use href="#t5" transform="translate(582.16,287.90) scale(1,1.18)"/></g>
<g fill="#0000ff"><use href="#t2" transform="translate(111.50,300.07) scale(1,1.18)"/><use href="#t2" transform="translate(346.83,300.07) scale(1,1.18)"/><use href="#t1" transform="translate(582.16,300.07) scale(1,1.18)"/></g>
<g fill="#ff0000"><use href="#t4" transform="translate(111.50,312.24) scale(1,1.18)"/><use href="#t2" transform="translate(346.83,312.24) scale(1,1.18)"/><use href="#t0" transform="translate(582.16,312.24) scale(1,1.18)"/></g>
<g fill="#0000ff"><use href="#t0" transform="translate(111.50,324.41) scale(1,1.18)"/><use href="#t4" transform="translate(346.83,324.41) scale(1,1.18)"/><use href="#t0" transform="translate(582.16,324.41) scale(1,1.18)"/></g>
<g fill="#ff0000"><use href="#t3" transform="translate(111.50,336.58) scale(1,1.18)"/><use href="#t0" transform="translate(346.83,336.58) scale(1,1.18)"/><use href="#t2" transform="translate(582.16,336.58) scale(1,1.18)"/></g>
<g fill="#0000ff"><use href="#t3" transform="translate(111.50,348.75) scale(1,1.18)"/><use href="#t0" transform="translate(346.83,348.75) scale(1,1.18)"/><use href="#t0" transform="translate(582.16,348.75) scale(1,1.18)"/></g>
<g fill="#ff0000"><use href="#t5" transform="translate(111.50,360.92) scale(1,1.18)"/><use href="#t0" transform="translate(346.83,360.92) scale(1,1.18)"/><use href="#t1" transform="translate(582.16,360.92) scale(1,1.18)"/></g>
<g fill="#0000ff"><use href="#t1" transform="translate(111.50,373.09) scale(1,1.18)"/><use href="#t0" transform="translate(346.83,373.09) scale(1,1.18)"/><use href="#t3" transform="translate(582.16,373.09) scale(1,1.18)"/></g>
<g fill="#ff0000"><use href="#t3" transform="translate(111.50,385.26) scale(1,1.18)"/><use href="#t5" transform="translate(346.83,385.26) scale(1,1.18)"/><use href="#t3" transform="translate(582.16,385.26) scale(1,1.18)"/></g>
<g fill="#0000ff"><use href="#t3" transform="translate(111.50,397.43) scale(1,1.18)"/><use href="#t0" transform="translate(346.83,397.43) scale(1,1.18)"/><use href="#t4" transform="translate(582.16,397.43) scale(1,1.18)"/></g>
<g fill="#ff0000"><use href="#t5" transform="translate(111.50,409.60) scale(1,1.18)"/><use href="#t1" transform="translate(346.83,409.60) scale(1,1.18)"/><use href="#t5" transform="translate(582.16,409.60) scale(1,1.18)"/></g>
<g fill="#0000ff"><use href="#t2" transform="translate(111.50,421.77) scale(1,1.18)"/><use href="#t2" transform="translate(346.83,421.77) scale(1,1.18)"/><use href="#t0" transform="translate(582.16,421.77) scale(1,1.18)"/></g>
<g fill="#ff0000"><use href="#t2" transform="translate(111.50,433.94) scale(1,1.18)"/><use href="#t2" transform="translate(346.83,433.94) scale(1,1.18)"/><use href="#t0" transform="translate(582.16,433.94) scale(1,1.18)"/></g>
<g fill="#0000ff"><use href="#t3" transform="translate(111.50,446.11) scale(1,1.18)"/><use href="#t0" transform="translate(346.83,446.11) scale(1,1.18)"/><use href="#t1" transform="translate(582.16,446.11) scale(1,1.18)"/></g>
<g fill="#ff0000"><use href="#t1" transform="translate(111.50,458.28) scale(1,1.18)"/><use href="#t5" transform="translate(346.83,458.28) scale(1,1.18)"/><use href="#t0" transform="translate(582.16,458.28) scale(1,1.18)"/></g>
<g fill="#0000ff"><use href="#t0" transform="translate(111.50,470.45) scale(1,1.18)"/><use href="#t0" transform="translate(346.83,470.45) scale(1,1.18)"/><use href="#t3" transform="translate(582.16,470.45) scale(1,1.18)"/></g>
<g fill="#ff0000"><use href="#t3" transform="translate(111.50,482.62) scale(1,1.10)"/><use href="#t1" transform="translate(346.83,482.62) scale(1,1.10)"/><use href="#t5" transform="translate(582.16,482.62) scale(1,1.10)"/></g>
<g fill="#0000ff"><use href="#t4" transform="translate(111.50,494.79) scale(1,1.10)"/><use href="#t1" transform="translate(346.83,494.79) scale(1,1.10)"/><use href="#t3" transform="translate(582.16,494.79) scale(1,1.10)"/></g>
<g fill="#ff0000"><use href="#t4" transform="translate(111.50,506.96) scale(1,1.10)"/><use href="#t1" transform="translate(346.83,506.96) scale(1,1.10)"/><use href="#t5" transform="translate(582.16,506.96) scale(1,1.10)"/></g>
<g fill="#0000ff"><use href="#t1" transform="translate(111.50,519.13) scale(1,0.85)"/><use href="#t3" transform="translate(346.83,519.13) scale(1,0.85)"/><use href="#t5" transform="translate(582.16,519.13) scale(1,0.85)"/></g>
<g fill="#ff0000"><use href="#t3" transform="translate(111.50,531.30) scale(1,1.10)"/><use href="#t0" transform="translate(346.83,531.30) scale(1,1.10)"/><use href="#t3" transform="translate(582.16,531.30) scale(1,1.10)"/></g>
<g fill="#0000ff"><use href="#t3" transform="translate(111.50,543.47) scale(1,1.10)"/><use href="#t1" transform="translate(346.83,543.47) scale(1,1.10)"/><use href="#t0" transform="translate(582.16,543.47) scale(1,1.10)"/></g>
<g fill="#ff0000"><use href="#t2" transform="translate(111.50,555.64) scale(1,1.10)"/><use href="#t4" transform="translate(346.83,555.64) scale(1,1.10)"/><use href="#t2" transform="translate(582.16,555.64) scale(1,1.10)"/></g>
<g fill="#0000ff"><use href="#t0" transform="translate(111.50,567.81) scale(1,1.10)"/><use href="#t1" transform="translate(346.83,567.81) scale(1,1.10)"/><use href="#t1" transform="translate(582.16,567.81) scale(1,1.10)"/></g>
<g fill="#ff0000"><use href="#t3" transform="translate(111.50,579.98) scale(1,1.10)"/><use href="#t4" transform="translate(346.83,579.98) scale(1,1.10)"/><use href="#t5" transform="translate(582.16,579.98) scale(1,1.10)"/></g>
<g fill="#0000ff"><use href="#t4" transform="translate(111.50,592.15) scale(1,1.10)"/><use href="#t0" transform="translate(346.83,592.15) scale(1,1.10)"/><use href="#t0" transform="translate(582.16,592.15) scale(1,1.10)"/></g>
<g fill="#ff0000"><use href="#t1" transform="translate(111.50,604.32) scale(1,0.85)"/><use href="#t1" transform="translate(346.83,604.32) scale(1,0.85)"/><use href="#t3" transform="translate(582.16,604.32) scale(1,0.85)"/></g>
<line x1="111.5" y1="616.49" x2="817.5" y2="616.49" stroke="#0000ff" stroke-width="1.2" opacity="0.6"/>
<path d="M130.0,63.8V72.8M665.0,162.2V170.2M206.0,185.5V195.5M449.0,184.5V195.5M594.2,184.5V195.5M121.7,208.9V219.9M157.2,208.9V220.9M164.3,211.9V217.9M166.8,211.9V217.9M179.5,209.9V221.9M212.0,203.9V220.9M216.3,202.9V225.9M219.0,210.9V218.9M268.9,197.9V223.9M285.0,205.9V219.9M323.0,210.9V218.9M370.7,205.9V220.9M382.9,207.9V219.9M415.2,205.9V222.9M464.3,209.9V219.9M484.7,210.9V218.9M489.8,208.9V219.9M494.9,199.9V220.9M503.8,209.9V219.9M529.0,211.9V217.9M573.7,207.9V221.9M619.7,211.9V217.9M632.0,207.9V220.9M648.7,210.9V218.9M664.7,209.9V218.9M669.8,209.9V218.9M722.5,202.9V225.9M766.2,207.9V225.9M800.3,211.9V217.9M133.3,236.2V242.2M199.0,235.2V245.2M402.5,236.2V242.2M421.8,235.2V243.2M472.0,236.2V242.2M615.0,235.2V243.2M658.8,235.2V243.2M767.0,235.2V243.2M787.6,236.2V242.2M201.0,258.6V269.6M367.6,260.1V267.1M435.6,260.1V267.1M498.2,259.6V267.6M588.4,259.6V267.6M744.8,260.6V266.6M182.8,283.9V292.9M401.2,283.9V291.9M423.1,283.9V291.9M559.7,283.9V291.9M660.9,283.9V291.9M774.1,283.9V291.9M797.0,284.9V290.9M185.9,308.2V316.2M243.5,309.2V315.2M256.4,309.2V315.2M392.3,308.2V318.2M440.0,308.2V316.2M499.2,306.2V318.2M563.6,307.2V316.2M690.1,306.2V318.2M741.0,306.2V319.2M747.9,308.2V316.2M188.9,332.6V340.6M326.2,331.6V341.6M374.0,332.6V340.6M550.3,332.6V341.6M561.8,331.6V340.6M668.5,332.6V340.6M748.7,333.6V339.6M812.8,329.6V343.6M307.7,356.9V364.9M377.0,355.9V365.9M549.0,354.9V366.9M606.7,356.9V364.9M758.3,356.9V364.9M229.0,380.3V390.3M328.0,381.3V389.3M421.0,381.3V389.3M701.6,380.3V391.3M764.0,382.3V388.3M265.0,405.6V413.6M354.9,405.6V413.6M496.6,404.6V413.6M170.6,428.9V438.9M236.6,427.9V440.9M387.2,429.9V436.9M691.4,430.9V436.9M283.6,454.3V463.3M326.2,455.3V461.3M454.1,453.3V464.3M506.8,455.3V462.3M688.9,453.3V462.3M779.2,453.3V460.3M784.3,454.3V460.3M787.6,455.3V461.3M179.5,503.0V511.0M351.1,503.0V511.0M200.3,528.3V535.3M217.6,528.3V534.3M425.4,527.3V535.3M330.5,551.6V559.6M688.9,551.6V559.6M545.7,576.0V584.0" fill="none" stroke="#ff0000" stroke-width="0.85"/>
<path d="M130.8,66.6V70.6M127.5,68.0 128.0,69.8 128.5,67.5 129.0,70.3 129.5,66.8 130.0,71.0 130.5,67.1 131.0,70.5 131.5,66.9 132.0,70.3 132.5,67.6 133.0,70.0 133.5,67.5 134.0,69.7 134.5,67.8M174.5,68.0 175.0,69.6 175.5,67.7 176.0,69.7 176.5,67.1 177.0,70.6 177.5,67.3 178.0,70.1 178.5,67.9 179.0,69.9 179.5,68.0 180.0,69.6M254.2,92.4 254.7,94.0 255.2,92.1 255.7,94.3 256.2,92.0 256.7,94.3 257.2,92.4 257.7,94.0 258.2,92.4M334.1,92.4 334.6,94.0 335.1,92.2 335.6,94.6 336.1,92.2 336.6,94.1 337.1,92.3 337.6,94.0 338.1,92.4M371.2,92.4 371.7,94.1 372.2,92.2 372.7,95.0 373.2,91.6 373.7,94.5 374.2,92.0 374.7,94.0 375.2,92.3M502.3,116.7 502.8,118.3 503.3,116.6 503.8,118.5 504.3,116.7 504.8,118.3 505.3,116.7 505.8,118.3 506.3,116.7M570.5,116.7 571.0,118.3 571.5,116.7 572.0,118.4 572.5,116.6 573.0,118.3 573.5,116.7 574.0,118.3 574.5,116.7M799.3,116.7 799.8,118.3 800.3,116.0 800.8,119.5 801.3,116.3 801.8,118.7 802.3,116.7 802.8,118.4 803.3,116.6M777.5,116.7 778.0,118.3 778.5,116.7 779.0,118.3 779.5,116.6 780.0,118.4 780.5,116.7 781.0,118.3 781.5,116.7M450.1,141.1 450.6,142.7 451.1,140.9 451.6,143.6 452.1,140.2 452.6,143.3 453.1,141.1 453.6,142.8 454.1,141.0M545.5,141.1 546.0,142.7 546.5,141.1 547.0,142.7 547.5,141.1 548.0,142.7 548.5,141.1 549.0,142.7 549.5,141.1M573.5,141.1 574.0,142.7 574.5,141.1 575.0,143.2 575.5,140.1 576.0,143.8 576.5,140.9 577.0,142.7 577.5,140.4 578.0,143.0 578.5,140.7 579.0,142.7 579.5,141.0 580.0,142.7 580.5,141.1M140.0,165.4 140.5,167.0 141.0,165.4 141.5,167.4 142.0,165.4 142.5,167.0 143.0,165.4 143.5,167.0 144.0,165.4M155.9,165.4 156.4,167.0 156.9,165.3 157.4,167.0 157.9,165.3 158.4,167.3 158.9,165.4 159.4,167.0 159.9,165.4M274.5,165.4 275.0,167.0 275.5,165.4 276.0,167.3 276.5,165.4 277.0,167.0 277.5,165.4 278.0,167.0 278.5,165.4M665.8,164.4V168.0M663.0,165.4 663.5,167.0 664.0,165.3 664.5,167.7 665.0,164.3 665.5,167.2 666.0,164.5 666.5,167.4 667.0,165.0 667.5,167.3 668.0,165.4 668.5,167.0M617.5,165.4 618.0,167.0 618.5,165.4 619.0,167.3 619.5,165.4 620.0,167.0 620.5,165.4 621.0,167.0 621.5,165.4M599.5,165.4 600.0,167.0 600.5,165.3 601.0,167.3 601.5,165.4 602.0,167.1 602.5,165.4 603.0,167.0 603.5,165.4M113.3,189.7 113.8,191.3 114.3,189.7 114.8,191.9 115.3,189.7 115.8,191.3 116.3,189.7 116.8,191.3 117.3,189.7M151.5,189.7 152.0,191.3 152.5,189.7 153.0,191.4 153.5,189.7 154.0,191.3 154.5,189.7 155.0,191.3 155.5,189.7M206.8,188.3V192.8M204.5,189.7 205.0,191.6 205.5,188.7 206.0,192.4 206.5,188.9 207.0,192.0 207.5,188.9 208.0,191.9 208.5,189.7M188.2,189.7 188.7,191.3 189.2,189.7 189.7,191.5 190.2,189.7 190.7,191.3 191.2,189.7 191.7,191.3 192.2,189.7M396.5,189.7 397.0,191.7 397.5,189.3 398.0,192.8 398.5,188.5 399.0,191.8 399.5,189.7 400.0,191.7 400.5,189.6M449.8,187.8V192.8M447.5,189.7 448.0,191.9 448.5,188.5 449.0,193.0 449.5,189.2 450.0,192.1 450.5,188.8 451.0,191.3 451.5,189.7M521.3,189.7 521.8,191.3 522.3,189.7 522.8,191.8 523.3,189.7 523.8,191.6 524.3,189.7 524.8,191.3 525.3,189.7M595.0,187.8V192.8M592.7,189.7 593.2,191.7 593.7,188.4 594.2,192.5 594.7,188.7 595.2,192.4 595.7,188.9 596.2,191.7 596.7,189.4M709.0,189.7 709.5,191.3 710.0,189.4 710.5,191.7 711.0,189.3 711.5,191.5 712.0,189.6 712.5,191.3 713.0,189.7M795.5,189.7 796.0,191.3 796.5,189.5 797.0,191.8 797.5,189.4 798.0,191.6 798.5,189.7 799.0,191.3 799.5,189.7M122.5,212.2V217.1M119.7,214.1 120.2,215.8 120.7,213.0 121.2,216.5 121.7,212.5 122.2,216.2 122.7,212.5 123.2,216.0 123.7,213.0 124.2,216.1 124.7,213.6 125.2,215.9M158.0,212.2V217.6M155.7,214.1 156.2,216.4 156.7,212.6 157.2,217.7 157.7,212.7 158.2,216.2 158.7,213.1 159.2,216.0 159.7,213.5M165.1,213.5V216.2M162.8,214.1 163.3,215.7 163.8,213.6 164.3,216.0 164.8,213.6 165.3,215.7 165.8,214.1 166.3,215.7 166.8,214.0M167.6,213.5V216.2M164.3,214.1 164.8,215.7 165.3,214.1 165.8,216.0 166.3,213.5 166.8,216.2 167.3,213.5 167.8,216.3 168.3,214.1 168.8,215.7 169.3,214.0 169.8,215.7 170.3,214.1 170.8,215.7 171.3,214.1M180.3,212.6V218.0M178.0,214.1 178.5,216.0 179.0,213.2 179.5,217.2 180.0,212.9 180.5,216.0 181.0,213.4 181.5,215.9 182.0,213.7M212.8,209.9V217.6M210.5,214.1 211.0,216.2 211.5,213.0 212.0,217.5 212.5,212.4 213.0,216.9 213.5,213.0 214.0,216.2 214.5,213.4M217.1,209.5V219.8M213.3,214.0 213.8,216.1 214.3,213.6 214.8,216.5 215.3,212.8 215.8,217.6 216.3,212.3 216.8,217.3 217.3,212.7 217.8,217.4 218.3,213.1 218.8,216.0 219.3,212.9 219.8,216.9 220.3,213.1 220.8,216.4 221.3,213.3 221.8,216.0 222.3,213.6 222.8,215.7M219.8,213.1V216.7M217.0,214.1 217.5,215.7 218.0,213.7 218.5,216.3 219.0,213.8 219.5,216.6 220.0,213.4 220.5,215.9 221.0,213.9 221.5,215.8 222.0,214.1 222.5,215.7M243.5,214.1 244.0,215.9 244.5,213.5 245.0,216.8 245.5,213.6 246.0,216.3 246.5,214.0 247.0,215.9 247.5,214.1M269.7,207.2V218.9M266.9,214.0 267.4,215.7 267.9,212.9 268.4,216.4 268.9,212.2 269.4,217.7 269.9,213.9 270.4,216.4 270.9,213.4 271.4,216.2 271.9,214.0 272.4,216.3M285.8,210.8V217.1M283.5,214.0 284.0,215.9 284.5,213.1 285.0,217.1 285.5,213.5 286.0,215.8 286.5,212.9 287.0,215.9 287.5,213.7M323.8,213.1V216.7M320.5,214.1 321.0,215.8 321.5,213.9 322.0,215.9 322.5,213.5 323.0,217.0 323.5,212.9 324.0,216.1 324.5,213.3 325.0,216.0 325.5,213.8 326.0,215.7 326.5,213.8 327.0,215.9 327.5,214.1M371.5,210.8V217.6M368.7,214.0 369.2,215.8 369.7,212.9 370.2,216.1 370.7,213.1 371.2,217.3 371.7,213.1 372.2,216.9 372.7,212.9 373.2,216.4 373.7,213.9 374.2,216.1M375.0,214.1 375.5,215.7 376.0,214.1 376.5,216.2 377.0,213.7 377.5,216.2 378.0,214.1 378.5,215.7 379.0,214.1M383.7,211.7V217.1M380.9,214.0 381.4,216.0 381.9,213.3 382.4,216.8 382.9,211.8 383.4,216.9 383.9,213.2 384.4,216.2 384.9,212.9 385.4,216.2 385.9,213.8 386.4,215.9M416.0,210.8V218.5M413.2,214.1 413.7,216.4 414.2,213.3 414.7,217.1 415.2,212.2 415.7,216.3 416.2,212.7 416.7,216.5 417.2,213.5 417.7,216.6 418.2,214.0 418.7,215.9M465.1,212.6V217.1M462.3,214.1 462.8,215.7 463.3,213.7 463.8,216.7 464.3,213.2 464.8,217.1 465.3,212.8 465.8,215.8 466.3,213.6 466.8,216.2 467.3,213.9 467.8,216.0M485.5,213.1V216.7M483.2,214.1 483.7,215.7 484.2,213.5 484.7,216.8 485.2,213.5 485.7,216.3 486.2,213.6 486.7,215.9 487.2,214.0M490.6,212.2V217.1M488.3,214.0 488.8,216.1 489.3,213.0 489.8,217.4 490.3,213.3 490.8,216.7 491.3,213.7 491.8,216.1 492.3,213.9M495.7,208.1V217.6M492.9,214.1 493.4,216.2 493.9,213.0 494.4,217.2 494.9,212.7 495.4,217.0 495.9,213.2 496.4,216.7 496.9,213.2 497.4,215.7 497.9,213.5 498.4,216.1M504.6,212.6V217.1M501.8,214.1 502.3,216.1 502.8,213.8 503.3,216.2 503.8,213.7 504.3,216.8 504.8,213.3 505.3,216.3 505.8,213.7 506.3,216.3 506.8,214.1 507.3,216.0M515.5,214.1 516.0,215.8 516.5,213.5 517.0,216.2 517.5,213.8 518.0,215.9 518.5,214.1 519.0,215.7 519.5,214.1M529.8,213.5V216.2M527.5,214.1 528.0,215.7 528.5,213.7 529.0,215.9 529.5,213.4 530.0,215.7 530.5,214.1 531.0,215.7 531.5,214.1M574.5,211.7V218.0M571.2,214.0 571.7,216.2 572.2,213.9 572.7,216.6 573.2,212.8 573.7,217.0 574.2,212.0 574.7,216.2 575.2,212.9 575.7,216.9 576.2,212.8 576.7,216.0 577.2,213.5 577.7,216.3 578.2,214.1M594.5,214.1 595.0,215.7 595.5,214.1 596.0,216.0 596.5,214.0 597.0,215.7 597.5,214.1 598.0,215.7 598.5,214.1M620.5,213.5V216.2M618.2,214.1 618.7,215.8 619.2,214.0 619.7,216.1 620.2,213.6 620.7,215.8 621.2,214.0 621.7,215.8 622.2,214.1M632.8,211.7V217.6M630.0,214.1 630.5,216.3 631.0,213.1 631.5,216.1 632.0,212.4 632.5,217.2 633.0,213.6 633.5,216.4 634.0,213.1 634.5,216.5 635.0,213.5 635.5,216.2M649.5,213.1V216.7M647.2,214.1 647.7,215.8 648.2,213.3 648.7,216.5 649.2,213.1 649.7,215.9 650.2,213.9 650.7,215.7 651.2,214.0M665.5,212.6V216.7M663.2,214.1 663.7,215.7 664.2,213.6 664.7,216.6 665.2,213.3 665.7,216.2 666.2,213.2 666.7,215.9 667.2,213.7M670.6,212.6V216.7M667.3,214.1 667.8,215.7 668.3,214.1 668.8,216.3 669.3,213.2 669.8,216.4 670.3,213.8 670.8,216.0 671.3,213.5 671.8,216.0 672.3,213.3 672.8,216.0 673.3,213.9 673.8,215.7 674.3,214.1M723.3,209.5V219.8M720.5,213.9 721.0,216.0 721.5,213.0 722.0,217.3 722.5,211.8 723.0,216.1 723.5,213.0 724.0,216.6 724.5,213.8 725.0,216.6 725.5,213.7 726.0,216.2M767.0,211.7V219.8M764.2,214.1 764.7,215.7 765.2,213.3 765.7,216.6 766.2,213.3 766.7,216.6 767.2,212.7 767.7,215.9 768.2,213.4 768.7,216.3 769.2,213.5 769.7,215.7M782.8,214.1 783.3,215.7 783.8,213.5 784.3,216.6 784.8,213.8 785.3,215.8 785.8,214.0 786.3,215.9 786.8,214.1M801.1,213.5V216.2M797.8,214.1 798.3,215.7 798.8,214.1 799.3,215.8 799.8,213.7 800.3,216.1 800.8,214.1 801.3,215.7 801.8,213.7 802.3,215.9 802.8,213.8 803.3,215.9 803.8,214.1 804.3,215.7 804.8,214.1M134.1,237.9V240.6M130.8,238.4 131.3,240.0 131.8,238.2 132.3,240.2 132.8,237.8 133.3,240.4 133.8,237.7 134.3,240.3 134.8,238.2 135.3,240.4 135.8,238.1 136.3,240.2 136.8,238.4 137.3,240.0 137.8,238.4M199.8,237.4V241.9M197.5,238.4 198.0,240.7 198.5,237.6 199.0,241.0 199.5,237.8 200.0,241.2 200.5,238.3 201.0,240.3 201.5,238.4M279.5,238.4 280.0,240.3 280.5,237.7 281.0,240.4 281.5,237.7 282.0,240.4 282.5,238.1 283.0,240.1 283.5,238.3M254.2,238.4 254.7,240.0 255.2,238.4 255.7,240.0 256.2,238.4 256.7,240.0 257.2,238.4 257.7,240.0 258.2,238.4M403.3,237.9V240.6M400.0,238.4 400.5,240.0 401.0,238.4 401.5,240.3 402.0,238.1 402.5,240.5 403.0,237.7 403.5,240.6 404.0,238.3 404.5,240.2 405.0,238.2 405.5,240.2 406.0,238.3 406.5,240.0 407.0,238.4M422.6,237.4V241.0M420.3,238.4 420.8,240.3 421.3,238.2 421.8,240.6 422.3,238.2 422.8,240.8 423.3,238.3 423.8,240.2 424.3,238.4M462.8,238.4 463.3,240.0 463.8,237.9 464.3,240.4 464.8,237.7 465.3,240.2 465.8,238.4 466.3,240.1 466.8,238.4M472.8,237.9V240.6M470.5,238.4 471.0,240.0 471.5,238.4 472.0,241.0 472.5,238.1 473.0,240.0 473.5,238.4 474.0,240.0 474.5,238.4M498.5,238.4 499.0,240.2 499.5,238.0 500.0,240.8 500.5,237.6 501.0,240.3 501.5,238.4 502.0,240.1 502.5,238.4M570.0,238.4 570.5,240.0 571.0,237.8 571.5,240.9 572.0,237.1 572.5,241.2 573.0,237.1 573.5,241.1 574.0,238.0 574.5,240.0 575.0,238.2 575.5,240.1 576.0,238.4 576.5,240.1 577.0,238.2M577.3,238.4 577.8,240.1 578.3,238.4 578.8,240.5 579.3,237.5 579.8,240.0 580.3,238.2 580.8,240.2 581.3,238.3M615.8,237.4V241.0M612.5,238.4 613.0,240.0 613.5,238.0 614.0,240.7 614.5,237.5 615.0,241.4 615.5,238.1 616.0,241.0 616.5,237.9 617.0,240.6 617.5,238.3 618.0,240.5 618.5,238.4 619.0,240.1 619.5,238.4M659.6,237.4V241.0M657.3,238.4 657.8,240.1 658.3,237.7 658.8,241.3 659.3,237.8 659.8,240.6 660.3,238.2 660.8,240.1 661.3,238.2M729.4,238.4 729.9,240.0 730.4,238.1 730.9,241.0 731.4,238.1 731.9,240.6 732.4,238.2 732.9,240.2 733.4,238.4M767.8,237.4V241.0M764.5,238.4 765.0,240.0 765.5,238.3 766.0,240.5 766.5,238.4 767.0,241.0 767.5,237.7 768.0,240.5 768.5,237.8 769.0,240.7 769.5,238.3 770.0,240.5 770.5,238.4 771.0,240.2 771.5,238.4M788.4,237.9V240.6M786.1,238.4 786.6,240.0 787.1,237.9 787.6,240.4 788.1,238.0 788.6,240.4 789.1,238.4 789.6,240.0 790.1,238.4M798.3,238.4 798.8,240.0 799.3,238.3 799.8,240.5 800.3,237.1 800.8,240.7 801.3,237.2 801.8,240.8 802.3,237.6 802.8,240.4 803.3,237.8 803.8,240.6 804.3,238.0 804.8,240.3 805.3,238.3M157.7,262.8 158.2,264.4 158.7,262.2 159.2,265.2 159.7,262.3 160.2,264.7 160.7,262.6 161.2,264.5 161.7,262.8M184.0,262.8 184.5,264.6 185.0,262.2 185.5,264.8 186.0,261.8 186.5,265.5 187.0,261.3 187.5,265.9 188.0,262.4 188.5,265.2 189.0,262.0 189.5,265.2 190.0,262.4 190.5,265.2 191.0,262.5 191.5,264.7 192.0,262.7 192.5,264.6 193.0,262.4 193.5,264.4 194.0,262.8 194.5,264.5M201.8,261.3V266.3M199.5,262.8 200.0,265.0 200.5,262.2 201.0,266.4 201.5,261.5 202.0,265.6 202.5,262.6 203.0,264.9 203.5,262.8M209.8,262.8 210.3,264.6 210.8,262.1 211.3,264.5 211.8,262.3 212.3,264.8 212.8,262.5 213.3,264.4 213.8,262.7M244.0,262.8 244.5,264.4 245.0,262.8 245.5,264.8 246.0,262.8 246.5,264.4 247.0,262.8 247.5,264.4 248.0,262.8M284.5,262.8 285.0,264.4 285.5,262.8 286.0,264.5 286.5,262.5 287.0,264.5 287.5,262.8 288.0,264.4 288.5,262.8M328.3,262.8 328.8,264.4 329.3,262.0 329.8,265.2 330.3,262.2 330.8,264.8 331.3,262.3 331.8,264.6 332.3,262.8M368.4,262.0V265.1M365.1,262.8 365.6,264.4 366.1,262.5 366.6,264.9 367.1,262.0 367.6,264.8 368.1,262.1 368.6,264.4 369.1,262.7 369.6,264.5 370.1,262.3 370.6,264.6 371.1,262.5 371.6,264.4 372.1,262.8M436.4,262.0V265.1M433.1,262.8 433.6,264.4 434.1,262.8 434.6,265.0 435.1,262.3 435.6,265.2 436.1,262.0 436.6,265.2 437.1,262.1 437.6,264.7 438.1,262.5 438.6,264.7 439.1,262.8 439.6,264.4 440.1,262.8M442.5,262.8 443.0,264.4 443.5,262.4 444.0,265.2 444.5,262.3 445.0,264.7 445.5,262.6 446.0,264.4 446.5,262.7M471.7,262.8 472.2,264.4 472.7,262.3 473.2,265.1 473.7,262.4 474.2,264.4 474.7,262.6 475.2,264.4 475.7,262.8M499.0,261.8V265.4M496.7,262.8 497.2,264.6 497.7,262.2 498.2,264.5 498.7,262.1 499.2,265.2 499.7,262.8 500.2,264.6 500.7,262.5M589.2,261.8V265.4M586.4,262.8 586.9,264.5 587.4,262.5 587.9,264.8 588.4,261.7 588.9,265.2 589.4,262.3 589.9,264.8 590.4,262.4 590.9,264.7 591.4,262.8 591.9,264.4M625.0,262.8 625.5,264.4 626.0,262.1 626.5,265.1 627.0,261.9 627.5,264.7 628.0,262.7 628.5,264.5 629.0,262.8M745.6,262.2V264.9M741.8,262.8 742.3,264.4 742.8,262.8 743.3,264.4 743.8,262.3 744.3,265.0 744.8,262.0 745.3,264.4 745.8,262.1 746.3,264.4 746.8,262.3 747.3,264.7 747.8,262.3 748.3,264.6 748.8,262.8 749.3,264.6 749.8,262.6 750.3,264.4 750.8,262.8 751.3,264.4 751.8,262.8 752.3,264.4M183.6,286.1V290.1M179.8,287.1 180.3,288.8 180.8,287.1 181.3,289.3 181.8,286.5 182.3,290.2 182.8,286.1 183.3,289.3 183.8,286.5 184.3,289.5 184.8,286.4 185.3,289.7 185.8,286.4 186.3,289.5 186.8,286.6 187.3,289.3 187.8,286.8 188.3,288.7 188.8,287.1 189.3,288.9M195.8,287.1 196.3,288.8 196.8,286.6 197.3,289.9 197.8,287.0 198.3,289.1 198.8,286.6 199.3,288.7 199.8,287.1M332.8,287.1 333.3,288.7 333.8,287.1 334.3,288.7 334.8,286.7 335.3,288.9 335.8,287.1 336.3,288.7 336.8,287.1M277.0,287.1 277.5,288.7 278.0,287.1 278.5,289.0 279.0,286.9 279.5,288.7 280.0,287.1 280.5,288.7 281.0,287.1M402.0,286.1V289.7M398.7,287.1 399.2,288.8 399.7,287.0 400.2,289.2 400.7,286.3 401.2,289.5 401.7,286.1 402.2,289.3 402.7,286.8 403.2,289.4 403.7,287.0 404.2,288.7 404.7,287.1 405.2,288.8 405.7,287.0M423.9,286.1V289.7M421.6,287.1 422.1,288.7 422.6,286.4 423.1,289.4 423.6,286.3 424.1,289.0 424.6,286.6 425.1,288.7 425.6,287.1M457.7,287.1 458.2,288.7 458.7,286.9 459.2,289.2 459.7,286.7 460.2,288.8 460.7,287.1 461.2,288.7 461.7,287.1M485.7,287.1 486.2,288.7 486.7,286.8 487.2,289.0 487.7,286.9 488.2,289.0 488.7,286.9 489.2,288.7 489.7,287.1M560.5,286.1V289.7M557.2,287.1 557.7,288.8 558.2,287.0 558.7,289.4 559.2,286.5 559.7,289.4 560.2,286.2 560.7,289.6 561.2,286.6 561.7,289.3 562.2,287.1 562.7,288.9 563.2,287.0 563.7,288.7 564.2,286.9M661.7,286.1V289.7M659.4,287.1 659.9,288.7 660.4,286.3 660.9,290.1 661.4,286.0 661.9,289.1 662.4,286.5 662.9,288.7 663.4,287.0M667.0,287.1 667.5,288.7 668.0,287.0 668.5,289.7 669.0,286.2 669.5,289.2 670.0,286.6 670.5,288.8 671.0,287.1M695.3,287.1 695.8,288.7 696.3,286.5 696.8,288.8 697.3,286.5 697.8,289.7 698.3,286.8 698.8,289.4 699.3,286.7 699.8,288.9 700.3,286.6 700.8,289.1 701.3,286.8 701.8,289.0 702.3,287.0M716.9,287.1 717.4,288.7 717.9,287.1 718.4,288.7 718.9,286.7 719.4,289.7 719.9,286.1 720.4,289.3 720.9,287.0 721.4,288.9 721.9,286.8 722.4,288.7 722.9,286.9 723.4,288.9 723.9,287.1M774.9,286.1V289.7M771.1,287.1 771.6,288.8 772.1,287.0 772.6,288.8 773.1,286.2 773.6,289.8 774.1,286.9 774.6,289.8 775.1,286.5 775.6,288.8 776.1,286.9 776.6,288.8 777.1,286.6 777.6,288.7 778.1,287.1 778.6,288.7 779.1,286.9 779.6,288.7M797.8,286.5V289.2M795.5,287.1 796.0,288.7 796.5,287.0 797.0,288.7 797.5,286.8 798.0,288.7 798.5,287.1 799.0,288.8 799.5,287.1M644.1,287.1 644.6,288.7 645.1,287.1 645.6,289.0 646.1,286.7 646.6,288.8 647.1,287.1 647.6,288.7 648.1,287.1M145.0,311.4 145.5,313.0 146.0,311.2 146.5,313.6 147.0,311.2 147.5,313.2 148.0,311.3 148.5,313.0 149.0,311.4M186.7,310.4V314.0M183.4,311.4 183.9,313.2 184.4,311.2 184.9,313.2 185.4,310.5 185.9,313.4 186.4,311.0 186.9,313.8 187.4,311.1 187.9,313.6 188.4,311.0 188.9,313.2 189.4,311.2 189.9,313.2 190.4,311.4M204.5,311.4 205.0,313.0 205.5,311.4 206.0,313.4 206.5,311.0 207.0,313.3 207.5,311.4 208.0,313.0 208.5,311.4M244.3,310.9V313.6M241.0,311.4 241.5,313.0 242.0,311.4 242.5,313.2 243.0,310.9 243.5,313.9 244.0,311.0 244.5,313.6 245.0,311.0 245.5,313.3 246.0,311.4 246.5,313.2 247.0,311.4 247.5,313.0 248.0,311.4M257.2,310.9V313.6M253.4,311.4 253.9,313.0 254.4,311.4 254.9,313.2 255.4,311.4 255.9,313.8 256.4,310.5 256.9,313.6 257.4,310.9 257.9,313.3 258.4,310.8 258.9,313.0 259.4,311.3 259.9,313.0 260.4,311.1 260.9,313.1 261.4,311.4 261.9,313.0 262.4,311.4 262.9,313.0 263.4,311.4 263.9,313.0M346.5,311.4 347.0,313.0 347.5,311.0 348.0,313.8 348.5,311.0 349.0,313.5 349.5,311.3 350.0,313.0 350.5,311.4M393.1,310.4V314.9M390.8,311.4 391.3,313.5 391.8,310.6 392.3,314.6 392.8,310.8 393.3,314.4 393.8,310.8 394.3,313.8 394.8,311.4M440.8,310.4V314.0M437.5,311.4 438.0,313.1 438.5,311.3 439.0,313.7 439.5,310.4 440.0,314.2 440.5,310.5 441.0,313.7 441.5,310.8 442.0,313.3 442.5,310.9 443.0,313.3 443.5,311.1 444.0,313.0 444.5,311.4M500.0,309.5V314.9M497.7,311.4 498.2,313.5 498.7,310.1 499.2,314.3 499.7,310.0 500.2,313.7 500.7,310.8 501.2,313.9 501.7,311.3M564.4,310.0V314.0M561.1,311.4 561.6,313.0 562.1,311.0 562.6,313.7 563.1,310.1 563.6,313.9 564.1,310.2 564.6,313.9 565.1,310.4 565.6,313.6 566.1,310.8 566.6,313.1 567.1,311.0 567.6,313.1 568.1,311.3M476.3,311.4 476.8,313.0 477.3,311.2 477.8,313.3 478.3,311.1 478.8,313.3 479.3,311.4 479.8,313.0 480.3,311.4M690.9,309.5V314.9M687.6,311.4 688.1,313.1 688.6,310.7 689.1,314.3 689.6,310.0 690.1,314.3 690.6,309.7 691.1,314.2 691.6,310.9 692.1,314.0 692.6,310.7 693.1,313.7 693.6,310.6 694.1,313.5 694.6,310.9M706.2,311.4 706.7,313.2 707.2,311.4 707.7,313.5 708.2,310.3 708.7,314.5 709.2,310.1 709.7,313.8 710.2,310.9 710.7,313.5 711.2,310.9 711.7,313.0 712.2,311.2 712.7,313.3 713.2,311.4M741.8,309.5V315.4M739.5,311.4 740.0,313.9 740.5,310.0 741.0,314.4 741.5,310.6 742.0,313.6 742.5,311.2 743.0,313.9 743.5,311.0M748.7,310.4V314.0M745.4,311.4 745.9,313.0 746.4,311.1 746.9,313.0 747.4,310.5 747.9,314.3 748.4,310.9 748.9,313.9 749.4,310.7 749.9,313.4 750.4,310.9 750.9,313.1 751.4,311.3 751.9,313.0 752.4,311.4M765.7,311.4 766.2,313.0 766.7,311.3 767.2,313.7 767.7,311.4 768.2,313.0 768.7,311.4 769.2,313.0 769.7,311.4M134.9,335.8 135.4,337.4 135.9,335.8 136.4,337.9 136.9,335.8 137.4,337.5 137.9,335.6 138.4,337.4 138.9,335.8M142.5,335.8 143.0,337.4 143.5,335.8 144.0,337.5 144.5,335.7 145.0,337.4 145.5,335.7 146.0,337.4 146.5,335.8M189.7,334.8V338.4M186.4,335.8 186.9,337.4 187.4,335.6 187.9,338.0 188.4,335.1 188.9,337.7 189.4,335.0 189.9,338.0 190.4,335.2 190.9,337.4 191.4,335.8 191.9,337.9 192.4,335.7 192.9,337.4 193.4,335.8M327.0,334.3V338.8M324.7,335.8 325.2,337.9 325.7,335.3 326.2,338.7 326.7,334.8 327.2,338.3 327.7,335.2 328.2,337.5 328.7,335.8M374.8,334.8V338.4M371.5,335.8 372.0,337.4 372.5,335.4 373.0,337.4 373.5,335.4 374.0,338.3 374.5,334.7 375.0,338.2 375.5,335.0 376.0,338.0 376.5,335.3 377.0,337.4 377.5,335.5 378.0,337.4 378.5,335.8M436.1,335.8 436.6,337.4 437.1,335.5 437.6,337.7 438.1,335.8 438.6,337.4 439.1,335.7 439.6,337.4 440.1,335.8M551.1,334.8V338.8M548.8,335.8 549.3,337.4 549.8,335.4 550.3,338.2 550.8,335.5 551.3,337.8 551.8,335.4 552.3,337.5 552.8,335.8M562.6,334.3V338.4M559.3,335.8 559.8,337.4 560.3,335.7 560.8,337.9 561.3,334.8 561.8,338.2 562.3,334.7 562.8,337.5 563.3,334.9 563.8,337.6 564.3,335.4 564.8,337.4 565.3,335.2 565.8,337.5 566.3,335.7M577.3,335.8 577.8,337.4 578.3,335.8 578.8,337.7 579.3,335.4 579.8,337.4 580.3,335.7 580.8,337.4 581.3,335.8M669.3,334.8V338.4M667.0,335.8 667.5,337.4 668.0,335.0 668.5,338.6 669.0,334.9 669.5,338.2 670.0,335.7 670.5,337.5 671.0,335.6M718.2,335.8 718.7,337.4 719.2,335.4 719.7,337.9 720.2,334.9 720.7,338.1 721.2,335.0 721.7,338.2 722.2,335.1 722.7,337.8 723.2,335.4 723.7,337.7 724.2,335.6 724.7,337.4 725.2,335.7M749.5,335.2V337.9M745.7,335.8 746.2,337.4 746.7,335.8 747.2,337.4 747.7,335.3 748.2,337.4 748.7,335.0 749.2,337.7 749.7,335.5 750.2,337.8 750.7,335.7 751.2,337.6 751.7,335.5 752.2,337.6 752.7,335.8 753.2,337.4 753.7,335.8 754.2,337.4M791.2,335.8 791.7,337.4 792.2,335.3 792.7,338.0 793.2,335.8 793.7,337.4 794.2,335.8 794.7,337.4 795.2,335.8M813.6,333.4V339.7M811.3,335.6 811.8,338.1 812.3,335.3 812.8,339.5 813.3,334.8 813.8,338.5 814.3,334.7 814.8,338.3 815.3,335.1M166.5,360.1 167.0,361.7 167.5,359.8 168.0,362.1 168.5,359.8 169.0,361.7 169.5,360.1 170.0,361.7 170.5,360.1M200.1,360.1 200.6,361.7 201.1,359.5 201.6,362.6 202.1,359.4 202.6,362.3 203.1,359.8 203.6,362.0 204.1,360.0M228.8,360.1 229.3,362.1 229.8,359.5 230.3,362.8 230.8,359.3 231.3,362.5 231.8,359.7 232.3,361.9 232.8,359.8M308.5,359.1V362.7M306.2,360.1 306.7,362.0 307.2,359.3 307.7,362.6 308.2,359.3 308.7,362.0 309.2,359.9 309.7,361.7 310.2,360.0M327.8,360.1 328.3,361.7 328.8,359.8 329.3,362.1 329.8,359.9 330.3,362.2 330.8,359.7 331.3,361.7 331.8,360.1M377.8,358.7V363.2M374.0,360.1 374.5,361.7 375.0,359.6 375.5,362.2 376.0,359.3 376.5,362.4 377.0,359.1 377.5,362.8 378.0,359.4 378.5,362.8 379.0,360.0 379.5,362.5 380.0,359.4 380.5,362.0 381.0,360.0 381.5,361.7 382.0,360.1 382.5,362.0M411.2,360.1 411.7,361.7 412.2,359.7 412.7,362.6 413.2,359.7 413.7,361.7 414.2,359.9 414.7,361.7 415.2,360.0M549.8,358.2V363.6M547.5,360.1 548.0,362.5 548.5,358.7 549.0,363.4 549.5,359.4 550.0,363.0 550.5,359.9 551.0,362.3 551.5,360.1M607.5,359.1V362.7M604.2,360.1 604.7,361.7 605.2,360.1 605.7,362.5 606.2,359.3 606.7,363.0 607.2,358.9 607.7,362.6 608.2,359.5 608.7,362.1 609.2,359.6 609.7,362.1 610.2,360.1 610.7,361.8 611.2,360.1M725.5,360.1 726.0,361.7 726.5,360.1 727.0,361.9 727.5,360.0 728.0,361.8 728.5,360.1 729.0,361.7 729.5,360.1M759.1,359.1V362.7M755.3,360.1 755.8,361.8 756.3,360.1 756.8,362.0 757.3,359.6 757.8,362.5 758.3,359.4 758.8,362.8 759.3,359.5 759.8,362.6 760.3,359.4 760.8,361.7 761.3,359.8 761.8,361.7 762.3,359.8 762.8,361.7 763.3,360.1 763.8,361.8M229.8,383.0V387.5M226.0,384.5 226.5,386.1 227.0,384.3 227.5,386.6 228.0,383.3 228.5,387.2 229.0,382.8 229.5,386.5 230.0,383.8 230.5,387.1 231.0,383.9 231.5,386.4 232.0,384.4 232.5,386.1 233.0,384.2 233.5,386.4 234.0,384.3 234.5,386.2M328.8,383.5V387.1M326.5,384.5 327.0,386.1 327.5,383.8 328.0,386.9 328.5,383.7 329.0,386.5 329.5,384.3 330.0,386.1 330.5,384.5M188.2,384.5 188.7,386.1 189.2,384.5 189.7,386.5 190.2,384.5 190.7,386.3 191.2,384.5 191.7,386.1 192.2,384.5M421.8,383.5V387.1M418.5,384.5 419.0,386.1 419.5,384.1 420.0,386.6 420.5,383.7 421.0,386.9 421.5,383.4 422.0,386.8 422.5,383.7 423.0,386.7 423.5,383.9 424.0,386.4 424.5,384.2 425.0,386.1 425.5,384.5M537.9,384.5 538.4,386.1 538.9,384.4 539.4,386.4 539.9,384.5 540.4,386.1 540.9,384.5 541.4,386.1 541.9,384.5M702.4,383.0V388.0M700.1,384.5 700.6,386.5 701.1,383.8 701.6,388.2 702.1,383.9 702.6,387.1 703.1,384.3 703.6,386.8 704.1,384.3M764.8,383.9V386.6M762.5,384.5 763.0,386.1 763.5,383.9 764.0,386.1 764.5,384.2 765.0,386.5 765.5,384.2 766.0,386.2 766.5,384.5M179.3,408.8 179.8,410.4 180.3,408.6 180.8,410.9 181.3,408.6 181.8,410.4 182.3,408.8 182.8,410.4 183.3,408.8M265.8,407.8V411.4M263.5,408.8 264.0,410.7 264.5,408.1 265.0,411.5 265.5,407.8 266.0,411.2 266.5,408.3 267.0,410.8 267.5,408.8M292.2,408.8 292.7,410.4 293.2,408.6 293.7,411.0 294.2,408.5 294.7,410.4 295.2,408.8 295.7,410.4 296.2,408.8M299.3,408.8 299.8,410.4 300.3,408.5 300.8,411.0 301.3,408.3 301.8,410.5 302.3,408.7 302.8,410.4 303.3,408.8M355.7,407.8V411.4M352.4,408.8 352.9,410.4 353.4,408.3 353.9,410.8 354.4,408.3 354.9,411.6 355.4,408.5 355.9,410.9 356.4,408.3 356.9,410.5 357.4,408.4 357.9,410.6 358.4,408.5 358.9,410.4 359.4,408.6M497.4,407.4V411.4M493.6,408.8 494.1,410.4 494.6,408.7 495.1,410.4 495.6,408.2 496.1,411.5 496.6,407.8 497.1,411.2 497.6,407.8 498.1,410.8 498.6,408.0 499.1,410.4 499.6,408.4 500.1,410.5 500.6,408.3 501.1,410.6 501.6,408.5 502.1,410.4M540.9,408.8 541.4,410.6 541.9,408.8 542.4,410.8 542.9,408.0 543.4,411.0 543.9,408.3 544.4,410.6 544.9,408.8M590.2,408.8 590.7,410.5 591.2,408.3 591.7,410.8 592.2,407.9 592.7,410.8 593.2,408.7 593.7,410.7 594.2,408.8M625.0,408.8 625.5,410.4 626.0,408.8 626.5,410.6 627.0,408.7 627.5,410.6 628.0,408.8 628.5,410.4 629.0,408.8M639.5,408.8 640.0,410.4 640.5,408.5 641.0,410.6 641.5,408.4 642.0,410.4 642.5,408.8 643.0,410.4 643.5,408.8M171.4,431.7V436.2M169.1,433.1 169.6,435.1 170.1,432.3 170.6,435.4 171.1,432.0 171.6,435.1 172.1,433.0 172.6,435.2 173.1,432.9M237.4,431.2V437.1M235.1,433.1 235.6,435.5 236.1,432.6 236.6,436.2 237.1,432.4 237.6,435.8 238.1,433.1 238.6,435.6 239.1,432.7M316.5,433.1 317.0,434.8 317.5,432.5 318.0,435.6 318.5,431.9 319.0,436.3 319.5,432.5 320.0,435.5 320.5,433.0 321.0,435.5 321.5,432.7 322.0,435.4 322.5,433.0 323.0,434.9 323.5,432.9M181.8,433.1 182.3,434.7 182.8,432.8 183.3,435.4 183.8,433.1 184.3,434.9 184.8,433.1 185.3,434.7 185.8,433.1M388.0,432.1V435.3M385.7,433.1 386.2,434.7 386.7,432.5 387.2,434.9 387.7,432.4 388.2,434.7 388.7,432.9 389.2,434.9 389.7,433.0M444.5,433.1 445.0,434.7 445.5,433.0 446.0,434.7 446.5,432.7 447.0,434.9 447.5,433.1 448.0,434.7 448.5,433.1M692.2,432.6V435.3M688.4,433.1 688.9,434.7 689.4,433.1 689.9,434.8 690.4,433.1 690.9,435.4 691.4,432.4 691.9,435.5 692.4,432.6 692.9,434.8 693.4,433.0 693.9,435.1 694.4,433.0 694.9,434.9 695.4,433.1 695.9,434.7 696.4,433.1 696.9,434.7M738.3,433.1 738.8,435.2 739.3,432.3 739.8,435.6 740.3,432.9 740.8,435.5 741.3,432.7 741.8,435.3 742.3,433.1M284.4,456.5V460.5M282.1,457.5 282.6,459.1 283.1,456.9 283.6,460.9 284.1,457.3 284.6,460.1 285.1,457.5 285.6,459.7 286.1,457.3M298.5,457.5 299.0,459.2 299.5,457.1 300.0,459.5 300.5,457.0 301.0,459.4 301.5,457.1 302.0,459.1 302.5,457.5M327.0,456.9V459.6M324.2,457.5 324.7,459.1 325.2,457.2 325.7,459.5 326.2,457.0 326.7,459.9 327.2,457.1 327.7,459.2 328.2,457.3 328.7,459.3 329.2,457.5 329.7,459.1M304.9,457.5 305.4,459.1 305.9,457.5 306.4,459.3 306.9,457.3 307.4,459.1 307.9,457.5 308.4,459.1 308.9,457.5M454.9,456.0V461.0M452.6,457.5 453.1,459.8 453.6,456.4 454.1,460.3 454.6,456.1 455.1,460.1 455.6,457.1 456.1,459.4 456.6,457.2M461.0,457.5 461.5,459.2 462.0,457.2 462.5,460.2 463.0,457.1 463.5,459.7 464.0,457.3 464.5,459.1 465.0,457.5M507.6,456.9V460.1M504.3,457.5 504.8,459.1 505.3,457.4 505.8,459.8 506.3,456.9 506.8,459.5 507.3,456.6 507.8,459.1 508.3,457.5 508.8,459.7 509.3,457.5 509.8,459.1 510.3,457.5 510.8,459.1 511.3,457.5M689.7,456.0V460.1M685.9,457.5 686.4,459.1 686.9,457.5 687.4,459.1 687.9,456.9 688.4,459.8 688.9,455.7 689.4,460.1 689.9,456.1 690.4,459.8 690.9,456.3 691.4,459.7 691.9,457.1 692.4,459.3 692.9,457.0 693.4,459.1 693.9,456.9 694.4,459.1 694.9,457.5 695.4,459.1M767.3,457.5 767.8,459.1 768.3,457.4 768.8,459.1 769.3,457.3 769.8,459.4 770.3,456.7 770.8,460.0 771.3,457.1 771.8,459.8 772.3,456.9 772.8,459.7 773.3,456.9 773.8,459.3 774.3,457.0 774.8,459.2 775.3,457.4 775.8,459.1 776.3,457.5 776.8,459.1 777.3,457.5 777.8,459.1M780.0,456.0V459.2M777.7,457.5 778.2,459.1 778.7,457.0 779.2,459.2 779.7,456.2 780.2,459.1 780.7,457.3 781.2,459.1 781.7,457.1M785.1,456.5V459.2M782.8,457.5 783.3,459.1 783.8,456.9 784.3,459.5 784.8,456.5 785.3,459.2 785.8,457.3 786.3,459.1 786.8,457.5M788.4,456.9V459.6M786.1,457.5 786.6,459.1 787.1,457.4 787.6,459.8 788.1,457.2 788.6,459.6 789.1,457.4 789.6,459.2 790.1,457.4M218.5,481.8 219.0,483.4 219.5,481.1 220.0,484.4 220.5,481.0 221.0,484.0 221.5,481.8 222.0,483.5 222.5,481.8M262.3,481.8 262.8,483.7 263.3,480.8 263.8,484.4 264.3,480.7 264.8,483.7 265.3,481.5 265.8,483.4 266.3,481.6M173.0,481.8 173.5,483.4 174.0,481.8 174.5,483.8 175.0,481.7 175.5,483.4 176.0,481.8 176.5,483.4 177.0,481.8M399.2,481.8 399.7,483.5 400.2,481.1 400.7,484.4 401.2,481.8 401.7,484.1 402.2,481.6 402.7,483.4 403.2,481.8M505.3,481.8 505.8,483.6 506.3,481.3 506.8,484.0 507.3,481.3 507.8,483.8 508.3,481.7 508.8,483.5 509.3,481.8M532.8,481.8 533.3,483.4 533.8,481.8 534.3,483.9 534.8,481.4 535.3,483.5 535.8,481.7 536.3,483.4 536.8,481.8M353.5,481.8 354.0,483.4 354.5,481.8 355.0,484.0 355.5,481.8 356.0,483.7 356.5,481.8 357.0,483.4 357.5,481.8M642.8,481.8 643.3,483.6 643.8,481.2 644.3,484.4 644.8,481.0 645.3,483.8 645.8,481.4 646.3,483.4 646.8,481.5M705.2,481.8 705.7,483.6 706.2,481.4 706.7,484.6 707.2,481.0 707.7,483.9 708.2,481.4 708.7,483.7 709.2,481.7M789.2,481.8 789.7,483.4 790.2,481.8 790.7,483.7 791.2,481.7 791.7,483.6 792.2,481.8 792.7,483.4 793.2,481.8M124.2,506.2 124.7,507.8 125.2,505.3 125.7,509.4 126.2,505.1 126.7,508.5 127.2,505.7 127.7,508.0 128.2,506.2M151.4,506.2 151.9,508.0 152.4,505.7 152.9,507.9 153.4,505.5 153.9,508.4 154.4,505.8 154.9,507.8 155.4,506.0M180.3,505.2V508.8M177.0,506.2 177.5,507.8 178.0,506.0 178.5,507.9 179.0,505.7 179.5,508.3 180.0,505.7 180.5,507.8 181.0,505.5 181.5,508.3 182.0,506.0 182.5,508.2 183.0,506.1 183.5,507.8 184.0,506.0M292.2,506.2 292.7,507.8 293.2,505.9 293.7,508.3 294.2,506.0 294.7,507.8 295.2,506.1 295.7,507.8 296.2,506.2M351.9,505.2V508.8M349.6,506.2 350.1,508.0 350.6,505.9 351.1,509.0 351.6,505.3 352.1,508.4 352.6,506.2 353.1,507.9 353.6,506.0M472.8,506.2 473.3,507.8 473.8,506.2 474.3,507.9 474.8,506.0 475.3,507.8 475.8,506.2 476.3,508.3 476.8,505.7 477.3,508.1 477.8,506.2 478.3,508.0 478.8,506.2 479.3,507.8 479.8,506.2 480.3,507.9 480.8,506.2 481.3,507.8 481.8,506.2 482.3,507.8 482.8,506.2 483.3,507.8M546.6,506.2 547.1,507.8 547.6,505.9 548.1,508.1 548.6,506.1 549.1,508.6 549.6,505.2 550.1,508.7 550.6,505.3 551.1,508.3 551.6,505.4 552.1,508.2 552.6,505.8 553.1,508.1 553.6,505.8 554.1,508.0 554.6,505.8 555.1,507.8 555.6,506.0 556.1,507.9 556.6,506.2 557.1,507.8M555.7,506.2 556.2,508.1 556.7,505.1 557.2,509.0 557.7,505.0 558.2,508.7 558.7,506.0 559.2,508.2 559.7,506.0M658.1,506.2 658.6,507.8 659.1,506.1 659.6,508.3 660.1,505.9 660.6,507.8 661.1,506.2 661.6,507.8 662.1,506.2M201.1,529.9V533.1M198.8,530.5 199.3,532.4 199.8,530.2 200.3,532.9 200.8,530.2 201.3,532.1 201.8,530.5 202.3,532.5 202.8,530.5M218.4,529.9V532.6M214.6,530.5 215.1,532.1 215.6,530.5 216.1,532.4 216.6,530.2 217.1,532.9 217.6,530.3 218.1,532.7 218.6,529.9 219.1,532.1 219.6,529.9 220.1,532.3 220.6,530.2 221.1,532.1 221.6,530.5 222.1,532.1 222.6,530.3 223.1,532.3 223.6,530.4 224.1,532.1 224.6,530.5 225.1,532.1M426.2,529.5V533.1M422.4,530.5 422.9,532.1 423.4,530.3 423.9,532.5 424.4,530.3 424.9,532.5 425.4,530.1 425.9,532.9 426.4,530.0 426.9,533.0 427.4,530.5 427.9,532.7 428.4,530.5 428.9,532.1 429.4,530.1 429.9,532.1 430.4,530.4 430.9,532.1M474.3,530.5 474.8,532.1 475.3,530.5 475.8,532.6 476.3,530.3 476.8,532.2 477.3,530.4 477.8,532.1 478.3,530.5M562.8,530.5 563.3,532.3 563.8,530.0 564.3,532.6 564.8,529.9 565.3,532.1 565.8,530.3 566.3,532.1 566.8,530.5M553.1,530.5 553.6,532.1 554.1,530.5 554.6,532.6 555.1,530.4 555.6,532.3 556.1,530.5 556.6,532.1 557.1,530.5M686.9,530.5 687.4,532.1 687.9,530.3 688.4,532.1 688.9,530.0 689.4,532.1 689.9,530.5 690.4,532.1 690.9,530.5M193.3,554.8 193.8,556.4 194.3,554.8 194.8,557.1 195.3,554.7 195.8,556.6 196.3,554.8 196.8,556.4 197.3,554.8M212.3,554.8 212.8,556.4 213.3,554.5 213.8,556.5 214.3,554.5 214.8,556.7 215.3,554.7 215.8,556.4 216.3,554.8M331.3,553.8V557.4M329.0,554.8 329.5,556.4 330.0,554.5 330.5,557.5 331.0,554.3 331.5,556.6 332.0,554.8 332.5,556.7 333.0,554.7M352.6,554.8 353.1,556.5 353.6,554.1 354.1,557.1 354.6,554.2 355.1,557.0 355.6,554.8 356.1,556.7 356.6,554.8M368.7,554.8 369.2,556.4 369.7,554.7 370.2,557.1 370.7,554.8 371.2,556.4 371.7,554.8 372.2,556.5 372.7,554.8M452.6,554.8 453.1,556.4 453.6,554.6 454.1,556.9 454.6,554.5 455.1,556.4 455.6,554.8 456.1,556.4 456.6,554.8M626.3,554.8 626.8,556.4 627.3,554.5 627.8,557.2 628.3,554.4 628.8,556.6 629.3,554.8 629.8,556.6 630.3,554.7M689.7,553.8V557.4M686.4,554.8 686.9,556.6 687.4,554.8 687.9,557.0 688.4,554.2 688.9,557.7 689.4,553.9 689.9,557.2 690.4,554.0 690.9,557.2 691.4,554.8 691.9,556.6 692.4,554.8 692.9,556.5 693.4,554.8M153.9,579.2 154.4,580.8 154.9,579.0 155.4,581.2 155.9,578.9 156.4,581.1 156.9,579.1 157.4,580.8 157.9,579.2M214.8,579.2 215.3,580.8 215.8,579.2 216.3,580.8 216.8,579.0 217.3,580.8 217.8,579.0 218.3,580.8 218.8,579.2M287.2,579.2 287.7,580.8 288.2,578.9 288.7,581.0 289.2,579.2 289.7,580.8 290.2,579.2 290.7,580.8 291.2,579.2M431.0,579.2 431.5,580.8 432.0,579.1 432.5,581.5 433.0,579.1 433.5,581.0 434.0,579.2 434.5,580.8 435.0,579.2M483.2,579.2 483.7,581.0 484.2,578.5 484.7,581.1 485.2,578.3 485.7,581.4 486.2,579.0 486.7,581.0 487.2,579.1M546.5,578.2V581.8M544.2,579.2 544.7,580.9 545.2,578.8 545.7,582.0 546.2,578.2 546.7,581.6 547.2,579.2 547.7,581.0 548.2,579.0M555.7,579.2 556.2,580.8 556.7,578.9 557.2,581.4 557.7,578.8 558.2,580.8 558.7,579.2 559.2,580.8 559.7,579.2M633.9,579.2 634.4,580.9 634.9,578.8 635.4,581.9 635.9,578.5 636.4,581.4 636.9,579.2 637.4,580.8 637.9,579.2M693.7,579.2 694.2,581.0 694.7,578.5 695.2,581.9 695.7,578.3 696.2,581.4 696.7,578.8 697.2,581.0 697.7,579.2M703.9,579.2 704.4,580.8 704.9,579.1 705.4,581.9 705.9,578.7 706.4,581.0 706.9,579.2 707.4,580.9 707.9,579.2M779.0,579.2 779.5,580.8 780.0,579.1 780.5,580.9 781.0,579.2 781.5,581.0 782.0,579.2 782.5,580.8 783.0,579.2M112.5,603.5 113.0,605.1 113.5,603.5 114.0,605.5 114.5,603.5 115.0,605.2 115.5,603.5 116.0,605.1 116.5,603.5M234.4,603.5 234.9,605.1 235.4,603.5 235.9,605.1 236.4,603.5 236.9,605.4 237.4,603.4 237.9,605.1 238.4,603.5M410.7,603.5 411.2,605.1 411.7,603.5 412.2,605.2 412.7,603.2 413.2,605.4 413.7,603.4 414.2,605.1 414.7,603.5M494.6,603.5 495.1,605.1 495.6,603.2 496.1,605.8 496.6,603.1 497.1,605.3 497.6,603.5 498.1,605.1 498.6,603.5M709.0,603.5 709.5,605.1 710.0,603.5 710.5,605.3 711.0,603.3 711.5,605.1 712.0,603.5 712.5,605.1 713.0,603.5M784.1,603.5 784.6,605.1 785.1,603.4 785.6,605.1 786.1,603.3 786.6,605.1 787.1,603.5 787.6,605.1 788.1,603.5" fill="none" stroke="#ff0000" stroke-width="0.7"/>
<path d="M661.6,52.7V59.7M337.0,147.0V161.0M812.3,151.0V157.0M369.4,174.4V182.4M751.7,174.4V183.4M199.8,197.7V206.7M298.0,196.7V206.7M430.0,198.7V205.7M531.0,197.7V209.7M692.7,199.7V205.7M737.2,199.7V205.7M753.8,198.7V208.7M757.6,199.7V205.7M765.2,199.7V205.7M767.8,199.7V205.7M797.0,199.7V205.7M814.8,199.7V205.7M115.6,223.1V233.1M146.5,223.1V231.1M419.8,223.1V234.1M678.7,223.1V232.1M735.2,224.1V230.1M134.4,245.4V257.4M342.0,247.4V255.4M358.2,248.4V254.4M491.5,248.4V256.4M584.5,248.4V254.4M602.4,246.4V256.4M769.0,248.4V254.4M175.7,271.7V280.7M195.5,272.7V278.7M233.3,271.7V280.7M427.4,272.2V279.2M468.0,271.7V281.7M591.7,272.7V278.7M742.8,269.7V281.7M748.7,272.7V278.7M793.2,270.7V281.7M183.3,296.1V304.1M200.3,297.1V303.1M274.7,297.1V304.1M492.3,295.1V306.1M558.5,296.1V304.1M650.2,296.6V303.6M685.0,295.1V307.1M742.3,296.1V304.1M809.7,297.1V303.1M182.6,319.4V328.4M358.2,320.4V329.4M406.3,320.4V328.4M599.8,321.4V327.4M617.6,319.4V330.4M750.0,320.9V327.9M804.6,321.4V327.4M194.8,345.8V351.8M338.7,344.8V352.8M486.0,345.8V351.8M528.0,342.8V354.8M659.6,345.2V352.2M744.8,344.8V353.8M191.7,368.1V378.1M215.6,369.1V378.1M370.7,368.1V380.1M380.4,369.1V378.1M713.8,369.6V376.6M783.0,369.1V379.1M217.6,393.4V403.4M275.5,394.4V400.4M456.2,392.4V403.4M558.5,393.4V403.4M123.2,417.8V425.8M185.1,417.8V425.8M198.0,417.8V425.8M425.6,418.8V425.8M484.2,416.8V427.8M579.6,418.3V425.3M815.6,418.8V424.8M149.6,443.1V449.1M243.5,442.1V450.1M429.5,442.1V451.1M447.8,442.1V452.1M656.3,443.1V449.1M786.0,442.1V452.1M114.0,467.4V473.4M414.7,467.4V474.4M551.6,467.4V473.4M627.3,467.4V473.4M659.6,464.4V476.4M690.7,466.9V473.9M764.4,466.4V474.4M786.0,467.4V473.4M139.4,491.8V497.8M382.9,490.8V498.8M703.6,491.8V497.8M540.7,516.1V522.1M423.6,540.5V546.5M618.4,540.5V546.5M243.5,563.8V571.8M802.9,564.8V570.8M223.2,588.1V595.1" fill="none" stroke="#0000ff" stroke-width="0.85"/>
<path d="M171.5,55.9 172.0,57.5 172.5,55.9 173.0,57.5 173.5,55.9 174.0,57.5 174.5,55.9 175.0,57.5 175.5,55.9M534.1,55.9 534.6,57.5 535.1,55.5 535.6,57.9 536.1,55.6 536.6,57.7 537.1,55.9 537.6,57.5 538.1,55.9M548.0,55.9 548.5,57.5 549.0,55.9 549.5,58.0 550.0,55.4 550.5,57.5 551.0,55.7 551.5,57.5 552.0,55.9M662.4,54.9V58.0M659.6,55.9 660.1,57.5 660.6,55.9 661.1,58.1 661.6,55.2 662.1,58.1 662.6,55.5 663.1,57.9 663.6,55.5 664.1,57.5 664.6,55.9 665.1,57.5M625.0,55.9 625.5,57.5 626.0,55.9 626.5,57.8 627.0,55.8 627.5,57.5 628.0,55.9 628.5,57.5 629.0,55.9M686.1,55.9 686.6,57.5 687.1,55.9 687.6,57.5 688.1,55.9 688.6,57.5 689.1,55.9 689.6,57.5 690.1,55.9M760.5,55.9 761.0,57.5 761.5,55.6 762.0,57.9 762.5,55.9 763.0,57.5 763.5,55.9 764.0,57.5 764.5,55.9M773.5,55.9 774.0,57.5 774.5,55.9 775.0,57.6 775.5,55.7 776.0,57.5 776.5,55.9 777.0,57.5 777.5,55.9M247.5,80.2 248.0,81.8 248.5,79.3 249.0,82.2 249.5,79.2 250.0,82.5 250.5,80.0 251.0,82.2 251.5,80.1M257.2,80.2 257.7,82.0 258.2,80.0 258.7,81.8 259.2,79.8 259.7,82.3 260.2,80.2 260.7,81.8 261.2,80.1M385.2,80.2 385.7,81.8 386.2,80.1 386.7,81.9 387.2,80.1 387.7,81.8 388.2,80.2 388.7,81.8 389.2,80.2M452.5,80.2 453.0,81.8 453.5,80.0 454.0,82.0 454.5,80.0 455.0,82.6 455.5,79.3 456.0,82.6 456.5,79.6 457.0,82.4 457.5,80.1 458.0,81.8 458.5,80.2 459.0,81.8 459.5,80.2M511.2,80.2 511.7,81.9 512.2,79.8 512.7,82.4 513.2,79.4 513.7,82.5 514.2,80.0 514.7,81.8 515.2,80.2M702.4,80.2 702.9,81.8 703.4,80.1 703.9,82.1 704.4,79.9 704.9,82.6 705.4,80.1 705.9,82.1 706.4,79.6 706.9,81.8 707.4,79.5 707.9,82.0 708.4,80.2 708.9,81.8 709.4,79.9 709.9,82.0 710.4,80.0 710.9,82.0 711.4,80.1 711.9,82.0 712.4,80.2 712.9,81.8M723.0,80.2 723.5,81.8 724.0,80.2 724.5,82.2 725.0,79.8 725.5,81.8 726.0,80.2 726.5,81.8 727.0,80.2M221.5,104.5 222.0,106.1 222.5,104.5 223.0,106.4 223.5,104.4 224.0,106.8 224.5,104.0 225.0,106.3 225.5,104.5 226.0,106.2 226.5,104.5 227.0,106.2 227.5,104.5 228.0,106.1 228.5,104.5M266.5,104.5 267.0,106.1 267.5,104.5 268.0,106.2 268.5,104.4 269.0,106.1 269.5,104.5 270.0,106.1 270.5,104.5M544.2,104.5 544.7,106.3 545.2,103.8 545.7,107.0 546.2,103.7 546.7,106.2 547.2,104.5 547.7,106.3 548.2,104.5M779.0,104.5 779.5,106.3 780.0,104.1 780.5,107.2 781.0,103.9 781.5,106.4 782.0,104.4 782.5,106.4 783.0,104.4M124.0,128.9 124.5,130.5 125.0,128.7 125.5,130.8 126.0,128.7 126.5,130.6 127.0,128.9 127.5,130.5 128.0,128.9M385.2,128.9 385.7,130.5 386.2,128.9 386.7,130.7 387.2,128.9 387.7,130.5 388.2,128.9 388.7,130.5 389.2,128.9M409.5,128.9 410.0,130.5 410.5,128.9 411.0,130.7 411.5,128.7 412.0,130.5 412.5,128.9 413.0,130.5 413.5,128.9M689.5,128.9 690.0,130.5 690.5,128.9 691.0,130.5 691.5,128.7 692.0,130.5 692.5,128.9 693.0,130.5 693.5,128.9M720.5,128.9 721.0,130.5 721.5,128.9 722.0,130.5 722.5,128.5 723.0,130.5 723.5,128.8 724.0,130.5 724.5,128.9M337.8,150.9V157.2M335.0,153.2 335.5,154.8 336.0,152.2 336.5,156.5 337.0,152.0 337.5,156.3 338.0,151.7 338.5,155.8 339.0,152.7 339.5,155.1 340.0,152.7 340.5,154.8M326.5,153.2 327.0,154.8 327.5,153.0 328.0,155.5 328.5,152.9 329.0,154.9 329.5,153.2 330.0,154.8 330.5,153.2M406.3,153.2 406.8,154.9 407.3,152.2 407.8,156.3 408.3,152.0 408.8,155.8 409.3,152.8 409.8,155.4 410.3,152.9M474.3,153.2 474.8,154.8 475.3,153.0 475.8,155.2 476.3,152.9 476.8,154.8 477.3,153.2 477.8,154.8 478.3,153.2M813.1,152.7V155.4M810.3,153.2 810.8,154.8 811.3,153.0 811.8,155.0 812.3,152.3 812.8,155.4 813.3,153.0 813.8,155.2 814.3,153.1 814.8,154.9 815.3,153.2 815.8,154.8M192.5,177.6 193.0,179.4 193.5,176.5 194.0,180.0 194.5,176.6 195.0,180.2 195.5,176.9 196.0,179.5 196.5,177.2M282.1,177.6 282.6,179.2 283.1,177.6 283.6,179.4 284.1,177.6 284.6,179.2 285.1,177.6 285.6,179.2 286.1,177.6M307.5,177.6 308.0,179.2 308.5,177.6 309.0,179.2 309.5,177.5 310.0,179.2 310.5,177.6 311.0,179.2 311.5,177.6M370.2,176.6V180.2M367.4,177.6 367.9,179.3 368.4,177.4 368.9,179.4 369.4,176.2 369.9,180.2 370.4,176.9 370.9,179.5 371.4,177.4 371.9,179.5 372.4,177.4 372.9,179.2M405.5,177.6 406.0,179.3 406.5,177.4 407.0,179.7 407.5,176.7 408.0,179.8 408.5,177.1 409.0,179.2 409.5,177.6M431.3,177.6 431.8,179.2 432.3,177.4 432.8,179.2 433.3,176.9 433.8,179.4 434.3,177.4 434.8,179.8 435.3,177.1 435.8,179.6 436.3,177.4 436.8,179.3 437.3,177.6 437.8,179.2 438.3,177.6M448.5,177.6 449.0,179.2 449.5,177.6 450.0,179.8 450.5,177.3 451.0,179.4 451.5,177.6 452.0,179.2 452.5,177.6M752.5,176.6V180.6M750.2,177.6 750.7,179.4 751.2,176.9 751.7,181.0 752.2,177.0 752.7,180.0 753.2,177.1 753.7,179.8 754.2,177.6M783.3,177.6 783.8,179.2 784.3,177.3 784.8,179.2 785.3,177.6 785.8,179.3 786.3,177.6 786.8,179.2 787.3,177.6M200.6,200.5V204.5M196.8,201.9 197.3,203.6 197.8,201.7 198.3,203.6 198.8,201.4 199.3,204.2 199.8,200.9 200.3,204.8 200.8,201.5 201.3,204.0 201.8,201.5 202.3,204.2 202.8,201.0 203.3,203.6 203.8,201.9 204.3,203.8 204.8,201.5 205.3,203.9 205.8,201.9 206.3,203.5 206.8,201.9 207.3,203.5M156.5,201.9 157.0,203.5 157.5,201.7 158.0,203.7 158.5,201.9 159.0,203.5 159.5,201.9 160.0,203.5 160.5,201.9M298.8,200.0V204.5M296.5,201.9 297.0,203.8 297.5,200.9 298.0,204.2 298.5,200.2 299.0,204.3 299.5,201.3 300.0,203.7 300.5,201.3M124.5,201.9 125.0,203.5 125.5,201.9 126.0,203.9 126.5,201.7 127.0,203.5 127.5,201.9 128.0,203.5 128.5,201.9M430.8,200.9V204.1M427.5,201.9 428.0,203.5 428.5,201.9 429.0,203.5 429.5,201.2 430.0,204.1 430.5,200.8 431.0,204.1 431.5,201.3 432.0,203.5 432.5,201.9 433.0,203.5 433.5,201.9 434.0,203.5 434.5,201.9M447.5,201.9 448.0,203.8 448.5,201.7 449.0,204.4 449.5,201.7 450.0,204.1 450.5,201.9 451.0,203.7 451.5,201.8M531.8,200.5V205.9M529.5,201.9 530.0,203.6 530.5,201.3 531.0,205.6 531.5,201.5 532.0,204.6 532.5,201.4 533.0,204.4 533.5,201.7M552.1,201.9 552.6,203.5 553.1,201.4 553.6,204.1 554.1,200.6 554.6,204.1 555.1,200.6 555.6,204.1 556.1,201.1 556.6,204.1 557.1,201.7 557.6,204.1 558.1,201.8 558.6,203.6 559.1,201.9M693.5,201.4V204.1M689.7,201.9 690.2,203.5 690.7,201.8 691.2,203.6 691.7,201.5 692.2,203.6 692.7,201.3 693.2,204.1 693.7,201.1 694.2,204.2 694.7,201.4 695.2,203.5 695.7,201.7 696.2,203.9 696.7,201.9 697.2,203.7 697.7,201.8 698.2,203.5 698.7,201.7 699.2,203.6 699.7,201.9 700.2,203.5 700.7,201.9 701.2,203.5 701.7,201.9 702.2,203.5M738.0,201.4V204.1M734.7,201.9 735.2,203.5 735.7,201.8 736.2,203.6 736.7,201.7 737.2,204.3 737.7,201.5 738.2,204.2 738.7,201.6 739.2,203.8 739.7,201.9 740.2,203.7 740.7,201.9 741.2,203.5 741.7,201.9M754.6,200.9V205.4M752.3,201.9 752.8,204.1 753.3,201.7 753.8,205.0 754.3,200.9 754.8,204.6 755.3,201.9 755.8,203.8 756.3,201.9M758.4,201.4V204.1M756.1,201.9 756.6,203.5 757.1,201.9 757.6,204.5 758.1,201.5 758.6,203.8 759.1,201.7 759.6,203.6 760.1,201.9M766.0,201.4V204.1M763.7,201.9 764.2,203.5 764.7,201.7 765.2,203.5 765.7,201.5 766.2,203.9 766.7,201.6 767.2,203.6 767.7,201.9M768.6,201.4V204.1M766.3,201.9 766.8,203.5 767.3,201.7 767.8,204.0 768.3,201.4 768.8,203.5 769.3,201.8 769.8,203.5 770.3,201.9M797.8,201.4V204.1M795.0,201.9 795.5,203.5 796.0,201.9 796.5,204.1 797.0,201.0 797.5,204.0 798.0,201.7 798.5,203.8 799.0,201.9 799.5,203.6 800.0,201.8 800.5,203.5M815.6,201.4V204.1M813.3,201.9 813.8,203.6 814.3,201.8 814.8,204.5 815.3,201.4 815.8,203.6 816.3,201.9 816.8,203.5 817.3,201.9M116.4,225.2V229.8M114.1,226.2 114.6,228.5 115.1,225.6 115.6,230.0 116.1,225.2 116.6,228.5 117.1,225.8 117.6,227.9 118.1,226.2M147.3,225.2V228.9M145.0,226.2 145.5,227.9 146.0,225.8 146.5,228.6 147.0,225.5 147.5,228.2 148.0,226.2 148.5,228.0 149.0,226.2M160.3,226.2 160.8,228.0 161.3,226.0 161.8,228.1 162.3,225.8 162.8,228.2 163.3,226.2 163.8,228.0 164.3,226.2M246.8,226.2 247.3,227.9 247.8,226.2 248.3,228.1 248.8,225.8 249.3,228.1 249.8,225.7 250.3,227.9 250.8,225.8 251.3,228.2 251.8,226.0 252.3,227.9 252.8,226.2 253.3,227.9 253.8,226.2M341.5,226.2 342.0,227.9 342.5,226.0 343.0,228.8 343.5,226.0 344.0,228.2 344.5,226.0 345.0,228.1 345.5,226.2M420.6,225.2V230.2M418.3,226.2 418.8,228.7 419.3,225.5 419.8,229.8 420.3,225.4 420.8,228.9 421.3,226.0 421.8,228.3 422.3,226.1M433.5,226.2 434.0,227.9 434.5,226.2 435.0,227.9 435.5,226.2 436.0,228.3 436.5,226.1 437.0,228.0 437.5,225.9 438.0,227.9 438.5,226.2 439.0,227.9 439.5,226.2 440.0,227.9 440.5,226.2M462.3,226.2 462.8,227.9 463.3,226.2 463.8,228.3 464.3,225.9 464.8,228.0 465.3,226.2 465.8,227.9 466.3,226.2M679.5,225.2V229.3M677.2,226.2 677.7,228.1 678.2,225.8 678.7,229.6 679.2,225.7 679.7,228.8 680.2,225.8 680.7,228.3 681.2,226.0M697.5,226.2 698.0,227.9 698.5,226.1 699.0,228.3 699.5,226.0 700.0,227.9 700.5,226.2 701.0,227.9 701.5,226.2M726.8,226.2 727.3,227.9 727.8,225.9 728.3,228.3 728.8,225.6 729.3,227.9 729.8,226.2 730.3,227.9 730.8,226.2M736.0,225.7V228.4M733.7,226.2 734.2,227.9 734.7,226.0 735.2,228.7 735.7,225.8 736.2,227.9 736.7,226.0 737.2,228.0 737.7,226.2M135.2,248.7V254.1M132.9,250.6 133.4,252.3 133.9,249.2 134.4,254.1 134.9,249.4 135.4,253.3 135.9,249.9 136.4,252.6 136.9,250.5M156.5,250.6 157.0,252.3 157.5,250.1 158.0,252.3 158.5,249.9 159.0,252.6 159.5,250.3 160.0,252.3 160.5,250.5M182.1,250.6 182.6,252.2 183.1,250.2 183.6,252.7 184.1,250.2 184.6,253.2 185.1,249.6 185.6,252.7 186.1,249.9 186.6,252.2 187.1,250.1 187.6,252.3 188.1,250.6 188.6,252.3 189.1,250.6M342.8,249.6V253.2M340.5,250.6 341.0,252.5 341.5,249.8 342.0,253.2 342.5,249.5 343.0,252.2 343.5,250.0 344.0,252.5 344.5,250.6M359.0,250.0V252.7M355.2,250.6 355.7,252.2 356.2,250.6 356.7,252.5 357.2,250.5 357.7,252.5 358.2,249.8 358.7,252.3 359.2,250.1 359.7,252.7 360.2,250.3 360.7,252.2 361.2,250.3 361.7,252.4 362.2,250.5 362.7,252.2 363.2,250.6 363.7,252.2M406.8,250.6 407.3,252.4 407.8,250.3 408.3,252.6 408.8,249.8 409.3,253.2 409.8,249.9 410.3,252.2 410.8,250.6M433.5,250.6 434.0,252.7 434.5,249.7 435.0,253.8 435.5,250.3 436.0,253.2 436.5,250.4 437.0,252.6 437.5,250.3M443.7,250.6 444.2,252.2 444.7,250.4 445.2,252.6 445.7,250.6 446.2,252.2 446.7,250.6 447.2,252.2 447.7,250.6M492.3,250.0V253.6M490.0,250.6 490.5,252.6 491.0,250.5 491.5,252.9 492.0,250.0 492.5,252.9 493.0,250.6 493.5,252.2 494.0,250.6M585.3,250.0V252.7M583.0,250.6 583.5,252.2 584.0,250.5 584.5,253.2 585.0,250.0 585.5,252.6 586.0,250.5 586.5,252.2 587.0,250.6M590.7,250.6 591.2,252.3 591.7,250.2 592.2,253.3 592.7,250.1 593.2,252.6 593.7,250.4 594.2,252.5 594.7,250.6M603.2,249.1V253.6M600.9,250.6 601.4,252.3 601.9,249.7 602.4,253.2 602.9,249.2 603.4,252.7 603.9,249.8 604.4,252.7 604.9,250.4M657.3,250.6 657.8,252.2 658.3,250.3 658.8,252.7 659.3,250.4 659.8,252.2 660.3,250.6 660.8,252.2 661.3,250.6M769.8,250.0V252.7M766.5,250.6 767.0,252.2 767.5,250.5 768.0,252.5 768.5,250.4 769.0,252.8 769.5,250.4 770.0,252.8 770.5,250.5 771.0,252.4 771.5,250.6 772.0,252.4 772.5,250.5 773.0,252.2 773.5,250.6M775.2,250.6 775.7,252.2 776.2,250.6 776.7,252.5 777.2,250.4 777.7,252.4 778.2,250.5 778.7,252.2 779.2,250.6M176.5,273.9V278.0M173.2,274.9 173.7,276.8 174.2,274.9 174.7,277.5 175.2,274.3 175.7,278.1 176.2,274.2 176.7,277.4 177.2,274.4 177.7,276.8 178.2,274.7 178.7,277.1 179.2,274.9 179.7,276.5 180.2,274.8M196.3,274.4V277.1M193.0,274.9 193.5,276.5 194.0,274.9 194.5,276.5 195.0,274.6 195.5,277.5 196.0,274.4 196.5,277.2 197.0,274.8 197.5,276.7 198.0,274.8 198.5,276.7 199.0,274.9 199.5,276.6 200.0,274.9M234.1,273.9V278.0M231.8,274.9 232.3,276.8 232.8,274.5 233.3,278.0 233.8,273.9 234.3,277.3 234.8,274.5 235.3,276.8 235.8,274.8M152.1,274.9 152.6,276.5 153.1,274.9 153.6,277.0 154.1,274.9 154.6,276.5 155.1,274.9 155.6,276.5 156.1,274.9M277.0,274.9 277.5,276.5 278.0,274.8 278.5,277.1 279.0,274.8 279.5,276.7 280.0,274.9 280.5,276.5 281.0,274.9M402.0,274.9 402.5,276.5 403.0,274.7 403.5,277.4 404.0,273.9 404.5,277.4 405.0,274.6 405.5,277.7 406.0,274.3 406.5,277.3 407.0,274.5 407.5,277.0 408.0,274.6 408.5,276.9 409.0,274.7M428.2,274.2V277.3M424.9,274.9 425.4,276.5 425.9,274.9 426.4,277.0 426.9,274.8 427.4,277.1 427.9,274.0 428.4,276.5 428.9,274.4 429.4,276.9 429.9,274.7 430.4,276.6 430.9,274.9 431.4,276.7 431.9,274.9M468.8,273.9V278.4M466.5,274.9 467.0,276.6 467.5,274.2 468.0,277.7 468.5,274.5 469.0,277.6 469.5,274.5 470.0,276.7 470.5,274.8M483.2,274.9 483.7,276.5 484.2,274.6 484.7,277.1 485.2,274.8 485.7,276.8 486.2,274.9 486.7,276.5 487.2,274.9M540.5,274.9 541.0,276.5 541.5,274.9 542.0,276.5 542.5,274.7 543.0,276.5 543.5,274.9 544.0,276.5 544.5,274.9M592.5,274.4V277.1M589.2,274.9 589.7,276.5 590.2,274.9 590.7,276.6 591.2,274.5 591.7,277.5 592.2,274.7 592.7,277.2 593.2,274.4 593.7,276.8 594.2,274.8 594.7,276.7 595.2,274.9 595.7,276.5 596.2,274.9M661.4,274.9 661.9,276.5 662.4,274.9 662.9,277.7 663.4,274.5 663.9,277.1 664.4,274.9 664.9,276.6 665.4,274.9M743.6,273.0V278.4M740.8,274.9 741.3,277.1 741.8,274.1 742.3,277.8 742.8,273.5 743.3,277.5 743.8,273.4 744.3,276.9 744.8,273.9 745.3,277.2 745.8,274.9 746.3,277.1M749.5,274.4V277.1M746.2,274.9 746.7,276.5 747.2,274.9 747.7,277.0 748.2,274.6 748.7,277.5 749.2,274.9 749.7,277.1 750.2,274.9 750.7,276.5 751.2,274.8 751.7,276.8 752.2,274.9 752.7,276.6 753.2,274.9M794.0,273.5V278.4M791.7,274.9 792.2,276.6 792.7,274.1 793.2,277.6 793.7,273.9 794.2,277.4 794.7,274.4 795.2,276.8 795.7,274.6M184.1,298.3V301.9M180.8,299.3 181.3,301.0 181.8,299.2 182.3,301.6 182.8,298.3 183.3,302.2 183.8,298.8 184.3,301.6 184.8,298.4 185.3,301.1 185.8,299.2 186.3,301.2 186.8,299.3 187.3,301.0 187.8,299.3M201.1,298.7V301.4M197.8,299.3 198.3,300.9 198.8,299.3 199.3,301.2 199.8,298.9 200.3,301.6 200.8,298.7 201.3,301.5 201.8,298.9 202.3,301.0 202.8,299.3 203.3,300.9 203.8,299.3 204.3,300.9 204.8,299.3M275.5,298.7V301.9M273.2,299.3 273.7,300.9 274.2,299.0 274.7,301.8 275.2,298.7 275.7,301.7 276.2,299.3 276.7,301.0 277.2,299.3M410.2,299.3 410.7,300.9 411.2,298.7 411.7,301.7 412.2,298.6 412.7,302.5 413.2,298.2 413.7,301.7 414.2,298.5 414.7,301.8 415.2,298.8 415.7,301.2 416.2,299.1 416.7,301.2 417.2,299.2M493.1,297.8V302.8M490.8,299.3 491.3,301.1 491.8,298.8 492.3,302.9 492.8,298.0 493.3,302.3 493.8,298.5 494.3,301.5 494.8,298.9M559.3,298.3V301.9M556.0,299.3 556.5,301.0 557.0,298.9 557.5,301.1 558.0,298.3 558.5,301.6 559.0,298.7 559.5,301.9 560.0,299.3 560.5,301.3 561.0,299.0 561.5,301.3 562.0,299.1 562.5,301.1 563.0,299.1M390.3,299.3 390.8,300.9 391.3,299.3 391.8,300.9 392.3,299.0 392.8,300.9 393.3,299.3 393.8,300.9 394.3,299.3M651.0,298.5V301.6M647.7,299.3 648.2,300.9 648.7,299.1 649.2,300.9 649.7,298.5 650.2,301.1 650.7,298.3 651.2,301.6 651.7,298.7 652.2,301.4 652.7,299.0 653.2,301.2 653.7,299.1 654.2,300.9 654.7,299.3M685.8,297.8V303.2M683.5,299.3 684.0,300.9 684.5,298.9 685.0,303.0 685.5,298.6 686.0,302.1 686.5,298.5 687.0,301.6 687.5,299.1M743.1,298.3V301.9M739.8,299.3 740.3,300.9 740.8,299.3 741.3,301.5 741.8,298.4 742.3,302.2 742.8,298.6 743.3,301.9 743.8,298.4 744.3,301.1 744.8,298.7 745.3,301.2 745.8,298.9 746.3,301.1 746.8,299.3M810.5,298.7V301.4M807.2,299.3 807.7,300.9 808.2,299.2 808.7,300.9 809.2,298.6 809.7,301.6 810.2,298.8 810.7,301.4 811.2,299.1 811.7,300.9 812.2,299.1 812.7,300.9 813.2,299.3 813.7,300.9 814.2,299.3M661.9,299.3 662.4,300.9 662.9,298.6 663.4,301.8 663.9,298.7 664.4,301.2 664.9,299.2 665.4,300.9 665.9,299.1M183.4,322.2V326.2M179.6,323.6 180.1,325.2 180.6,323.3 181.1,325.8 181.6,322.5 182.1,326.1 182.6,322.8 183.1,325.9 183.6,322.4 184.1,325.6 184.6,322.6 185.1,325.9 185.6,323.3 186.1,325.4 186.6,323.5 187.1,325.4 187.6,323.6 188.1,325.3M151.4,323.6 151.9,325.2 152.4,323.5 152.9,325.7 153.4,323.6 153.9,325.2 154.4,323.6 154.9,325.2 155.4,323.6M213.5,323.6 214.0,325.2 214.5,323.6 215.0,325.2 215.5,323.3 216.0,325.2 216.5,323.6 217.0,325.2 217.5,323.6M359.0,322.6V326.7M356.7,323.6 357.2,325.5 357.7,323.2 358.2,326.6 358.7,323.0 359.2,325.8 359.7,323.5 360.2,325.4 360.7,323.6M407.1,322.6V326.2M403.3,323.6 403.8,325.2 404.3,323.4 404.8,325.4 405.3,323.5 405.8,326.3 406.3,322.7 406.8,326.1 407.3,323.1 407.8,326.1 408.3,322.9 408.8,325.7 409.3,323.2 409.8,325.6 410.3,323.4 410.8,325.3 411.3,323.6 411.8,325.2M469.2,323.6 469.7,325.3 470.2,323.1 470.7,326.3 471.2,322.8 471.7,325.4 472.2,323.6 472.7,325.2 473.2,323.6M491.5,323.6 492.0,325.3 492.5,323.3 493.0,325.7 493.5,322.8 494.0,325.8 494.5,323.3 495.0,325.4 495.5,323.5M505.3,323.6 505.8,325.2 506.3,323.5 506.8,325.8 507.3,323.1 507.8,325.5 508.3,323.5 508.8,325.2 509.3,323.6M600.6,323.1V325.8M597.3,323.6 597.8,325.2 598.3,323.6 598.8,325.3 599.3,322.9 599.8,325.9 600.3,322.8 600.8,325.2 601.3,323.0 601.8,325.2 602.3,323.6 602.8,325.2 603.3,323.6 603.8,325.2 604.3,323.6M618.4,322.2V327.1M616.1,323.6 616.6,325.7 617.1,322.6 617.6,327.0 618.1,322.5 618.6,325.8 619.1,323.1 619.6,326.0 620.1,323.3M750.8,322.8V326.0M747.5,323.6 748.0,325.2 748.5,323.4 749.0,325.5 749.5,323.0 750.0,326.1 750.5,323.6 751.0,325.5 751.5,323.1 752.0,325.3 752.5,323.6 753.0,325.5 753.5,323.6 754.0,325.4 754.5,323.6M784.1,323.6 784.6,325.3 785.1,323.4 785.6,326.3 786.1,322.9 786.6,325.8 787.1,323.6 787.6,325.2 788.1,323.5M805.4,323.1V325.8M802.1,323.6 802.6,325.2 803.1,323.6 803.6,325.2 804.1,323.2 804.6,326.2 805.1,323.2 805.6,325.4 806.1,323.1 806.6,325.2 807.1,323.4 807.6,325.3 808.1,323.5 808.6,325.2 809.1,323.6M139.5,347.9 140.0,349.6 140.5,347.9 141.0,349.8 141.5,347.6 142.0,349.6 142.5,347.9 143.0,349.6 143.5,347.9M195.6,347.4V350.1M192.3,347.9 192.8,349.6 193.3,347.9 193.8,349.6 194.3,347.9 194.8,350.1 195.3,347.7 195.8,350.1 196.3,347.6 196.8,349.9 197.3,347.6 197.8,349.6 198.3,347.9 198.8,349.6 199.3,347.9M297.0,347.9 297.5,349.6 298.0,347.9 298.5,350.0 299.0,347.6 299.5,349.8 300.0,347.0 300.5,349.6 301.0,347.6 301.5,349.6 302.0,347.8 302.5,349.6 303.0,347.7 303.5,349.6 304.0,347.8 304.5,349.7 305.0,347.9 305.5,349.6M339.5,346.9V350.6M336.2,347.9 336.7,349.6 337.2,347.5 337.7,350.1 338.2,347.1 338.7,350.8 339.2,347.0 339.7,350.6 340.2,347.6 340.7,350.2 341.2,347.5 341.7,349.8 342.2,347.9 342.7,349.6 343.2,347.9M446.8,347.9 447.3,349.6 447.8,347.9 448.3,349.6 448.8,347.9 449.3,350.3 449.8,347.0 450.3,350.6 450.8,347.1 451.3,349.9 451.8,347.5 452.3,350.0 452.8,347.4 453.3,349.8 453.8,347.5 454.3,349.7 454.8,347.9 455.3,349.6 455.8,347.9 456.3,349.7 456.8,347.9 457.3,349.6M486.8,347.4V350.1M484.5,347.9 485.0,349.6 485.5,347.9 486.0,349.8 486.5,347.6 487.0,349.9 487.5,347.7 488.0,349.6 488.5,347.9M528.8,346.1V351.4M525.5,347.9 526.0,350.0 526.5,347.6 527.0,349.7 527.5,346.3 528.0,351.2 528.5,347.1 529.0,350.2 529.5,346.5 530.0,350.7 530.5,347.8 531.0,350.3 531.5,347.7 532.0,349.9 532.5,347.6M618.7,347.9 619.2,349.6 619.7,347.9 620.2,349.6 620.7,347.6 621.2,349.6 621.7,347.9 622.2,349.6 622.7,347.9M660.4,347.2V350.3M658.1,347.9 658.6,349.7 659.1,347.8 659.6,349.7 660.1,347.3 660.6,349.9 661.1,347.8 661.6,349.8 662.1,347.9M683.5,347.9 684.0,349.6 684.5,347.3 685.0,350.7 685.5,347.3 686.0,349.8 686.5,347.6 687.0,349.8 687.5,347.9M745.6,346.9V351.0M741.8,347.9 742.3,349.6 742.8,347.9 743.3,350.2 743.8,347.1 744.3,350.9 744.8,347.3 745.3,350.8 745.8,347.4 746.3,350.0 746.8,347.3 747.3,350.4 747.8,347.7 748.3,349.9 748.8,347.7 749.3,349.9 749.8,347.9 750.3,349.6M177.5,372.3 178.0,374.0 178.5,371.9 179.0,374.7 179.5,372.0 180.0,374.3 180.5,372.2 181.0,374.1 181.5,372.3M192.5,370.8V375.3M190.2,372.3 190.7,374.0 191.2,371.4 191.7,375.3 192.2,372.2 192.7,375.0 193.2,371.5 193.7,374.2 194.2,372.3M216.4,371.3V375.3M214.1,372.3 214.6,374.5 215.1,372.0 215.6,375.5 216.1,371.3 216.6,375.0 217.1,372.2 217.6,373.9 218.1,372.3M336.5,372.3 337.0,373.9 337.5,372.0 338.0,374.3 338.5,372.3 339.0,373.9 339.5,372.3 340.0,373.9 340.5,372.3M371.5,370.8V376.2M369.2,372.3 369.7,374.4 370.2,371.5 370.7,375.6 371.2,371.4 371.7,375.0 372.2,371.6 372.7,374.7 373.2,372.2M381.2,371.3V375.3M377.4,372.3 377.9,373.9 378.4,372.3 378.9,374.4 379.4,371.8 379.9,374.2 380.4,371.9 380.9,375.0 381.4,371.2 381.9,375.1 382.4,372.3 382.9,374.4 383.4,372.0 383.9,374.2 384.4,372.3 384.9,374.2 385.4,372.1 385.9,373.9M411.9,372.3 412.4,373.9 412.9,372.3 413.4,374.5 413.9,372.2 414.4,374.1 414.9,372.2 415.4,373.9 415.9,372.3M610.5,372.3 611.0,373.9 611.5,372.0 612.0,374.2 612.5,372.1 613.0,373.9 613.5,372.3 614.0,373.9 614.5,372.3M714.6,371.5V374.7M712.3,372.3 712.8,374.1 713.3,371.8 713.8,375.1 714.3,371.4 714.8,374.0 715.3,371.8 715.8,373.9 716.3,372.2M783.8,371.3V375.8M781.5,372.3 782.0,374.2 782.5,371.8 783.0,375.9 783.5,371.4 784.0,374.5 784.5,371.7 785.0,374.7 785.5,372.2M121.5,396.6 122.0,398.2 122.5,396.4 123.0,398.2 123.5,396.2 124.0,398.3 124.5,396.6 125.0,398.2 125.5,396.6M218.4,395.6V400.1M216.1,396.6 216.6,399.0 217.1,395.8 217.6,399.2 218.1,395.9 218.6,399.0 219.1,396.2 219.6,398.4 220.1,396.6M276.3,396.1V398.8M273.0,396.6 273.5,398.2 274.0,396.6 274.5,398.5 275.0,395.9 275.5,399.2 276.0,395.8 276.5,398.8 277.0,396.5 277.5,398.3 278.0,396.5 278.5,398.3 279.0,396.6 279.5,398.2 280.0,396.6M356.0,396.6 356.5,398.2 357.0,396.6 357.5,398.7 358.0,395.9 358.5,398.8 359.0,396.6 359.5,398.2 360.0,396.6M457.0,395.2V400.1M453.2,396.6 453.7,398.6 454.2,396.5 454.7,398.5 455.2,395.5 455.7,400.1 456.2,395.1 456.7,399.6 457.2,395.4 457.7,399.6 458.2,395.9 458.7,398.8 459.2,396.1 459.7,399.0 460.2,396.4 460.7,398.8 461.2,396.6 461.7,398.7M493.4,396.6 493.9,398.2 494.4,396.3 494.9,398.9 495.4,396.2 495.9,398.5 496.4,396.5 496.9,398.2 497.4,396.6M559.3,395.6V400.1M557.0,396.6 557.5,398.9 558.0,395.8 558.5,400.3 559.0,396.5 559.5,398.6 560.0,396.2 560.5,398.8 561.0,396.4M638.5,396.6 639.0,398.5 639.5,395.7 640.0,399.6 640.5,395.5 641.0,398.8 641.5,396.0 642.0,398.2 642.5,396.3M647.2,396.6 647.7,398.4 648.2,396.2 648.7,398.7 649.2,396.1 649.7,398.7 650.2,396.4 650.7,398.2 651.2,396.6M750.5,396.6 751.0,398.2 751.5,396.6 752.0,398.4 752.5,396.4 753.0,398.4 753.5,396.5 754.0,398.2 754.5,396.6M124.0,420.0V423.6M121.7,421.0 122.2,422.6 122.7,420.3 123.2,423.6 123.7,421.0 124.2,423.3 124.7,421.0 125.2,422.9 125.7,420.8M185.9,420.0V423.6M183.6,421.0 184.1,422.7 184.6,421.0 185.1,423.7 185.6,420.9 186.1,423.1 186.6,420.4 187.1,422.8 187.6,421.0M198.8,420.0V423.6M195.0,421.0 195.5,422.6 196.0,420.9 196.5,423.1 197.0,420.3 197.5,423.3 198.0,420.0 198.5,423.2 199.0,420.4 199.5,423.5 200.0,420.6 200.5,423.2 201.0,420.7 201.5,422.6 202.0,421.0 202.5,422.9 203.0,420.8 203.5,422.7M225.0,421.0 225.5,422.6 226.0,420.8 226.5,422.8 227.0,420.3 227.5,423.0 228.0,420.5 228.5,422.6 229.0,421.0M304.9,421.0 305.4,422.6 305.9,421.0 306.4,423.0 306.9,420.8 307.4,422.6 307.9,420.8 308.4,422.6 308.9,421.0M426.4,420.4V423.6M423.1,421.0 423.6,422.6 424.1,421.0 424.6,423.1 425.1,420.3 425.6,422.9 426.1,420.3 426.6,423.0 427.1,420.5 427.6,423.2 428.1,420.7 428.6,422.6 429.1,421.0 429.6,422.8 430.1,421.0M485.0,419.5V424.5M482.7,421.0 483.2,423.1 483.7,420.8 484.2,424.0 484.7,419.6 485.2,422.9 485.7,420.6 486.2,422.6 486.7,420.6M513.7,421.0 514.2,422.6 514.7,420.9 515.2,422.7 515.7,420.8 516.2,422.7 516.7,420.9 517.2,422.6 517.7,421.0M580.4,420.2V423.3M578.1,421.0 578.6,422.6 579.1,420.3 579.6,423.1 580.1,420.2 580.6,422.8 581.1,420.8 581.6,422.8 582.1,421.0M595.8,421.0 596.3,422.6 596.8,420.7 597.3,423.2 597.8,420.6 598.3,422.6 598.8,421.0 599.3,422.6 599.8,421.0M683.5,421.0 684.0,422.6 684.5,420.7 685.0,422.9 685.5,421.0 686.0,422.6 686.5,420.8 687.0,422.6 687.5,421.0M816.4,420.4V423.1M814.1,421.0 814.6,422.7 815.1,420.9 815.6,423.4 816.1,420.3 816.6,422.6 817.1,421.0 817.6,422.6 818.1,421.0M111.5,445.3 112.0,446.9 112.5,445.3 113.0,448.0 113.5,444.5 114.0,447.0 114.5,445.3 115.0,447.0 115.5,445.3M132.9,445.3 133.4,447.4 133.9,444.4 134.4,447.8 134.9,444.3 135.4,447.4 135.9,444.6 136.4,447.0 136.9,445.0M150.4,444.8V447.5M148.1,445.3 148.6,447.0 149.1,445.1 149.6,447.9 150.1,444.8 150.6,447.0 151.1,445.1 151.6,446.9 152.1,445.3M244.3,444.3V447.9M242.0,445.3 242.5,447.1 243.0,445.0 243.5,447.3 244.0,444.4 244.5,447.1 245.0,444.8 245.5,446.9 246.0,445.3M363.4,445.3 363.9,446.9 364.4,445.1 364.9,447.4 365.4,444.8 365.9,447.8 366.4,444.4 366.9,447.7 367.4,444.8 367.9,447.4 368.4,444.8 368.9,447.1 369.4,444.9 369.9,447.4 370.4,445.0 370.9,446.9 371.4,445.3 371.9,446.9 372.4,445.3 372.9,447.0 373.4,445.3 373.9,446.9M430.3,444.3V448.4M428.0,445.3 428.5,447.3 429.0,444.6 429.5,448.3 430.0,444.5 430.5,447.4 431.0,445.3 431.5,447.2 432.0,445.1M448.6,444.3V448.8M446.3,445.3 446.8,447.2 447.3,444.7 447.8,448.6 448.3,444.6 448.8,447.5 449.3,444.8 449.8,447.0 450.3,445.3M466.5,445.3 467.0,446.9 467.5,445.3 468.0,446.9 468.5,445.1 469.0,446.9 469.5,445.3 470.0,446.9 470.5,445.3M618.2,445.3 618.7,447.0 619.2,445.0 619.7,447.7 620.2,444.6 620.7,447.1 621.2,445.0 621.7,447.0 622.2,445.2M657.1,444.8V447.5M653.3,445.3 653.8,446.9 654.3,445.2 654.8,446.9 655.3,445.1 655.8,447.3 656.3,444.5 656.8,447.6 657.3,445.1 657.8,447.6 658.3,444.7 658.8,447.2 659.3,444.8 659.8,447.2 660.3,445.2 660.8,446.9 661.3,445.3 661.8,446.9 662.3,445.3 662.8,446.9 663.3,445.3 663.8,446.9M661.9,445.3 662.4,447.0 662.9,444.8 663.4,447.8 663.9,444.6 664.4,447.3 664.9,445.3 665.4,447.1 665.9,445.3M786.8,444.3V448.8M784.5,445.3 785.0,447.7 785.5,444.8 786.0,448.0 786.5,444.6 787.0,447.8 787.5,445.2 788.0,447.7 788.5,445.3M114.8,469.1V471.8M112.5,469.6 113.0,471.3 113.5,469.3 114.0,471.8 114.5,469.6 115.0,471.6 115.5,469.3 116.0,471.3 116.5,469.6M134.9,469.6 135.4,471.2 135.9,469.3 136.4,472.3 136.9,469.6 137.4,471.6 137.9,469.4 138.4,471.2 138.9,469.6M291.0,469.6 291.5,471.3 292.0,469.4 292.5,472.2 293.0,469.1 293.5,471.8 294.0,469.5 294.5,471.5 295.0,469.6M415.5,469.1V472.2M413.2,469.6 413.7,471.4 414.2,469.5 414.7,472.0 415.2,468.9 415.7,471.8 416.2,469.4 416.7,471.2 417.2,469.6M465.4,469.6 465.9,471.2 466.4,469.6 466.9,471.2 467.4,469.2 467.9,471.5 468.4,469.6 468.9,471.2 469.4,469.6M552.4,469.1V471.8M550.1,469.6 550.6,471.2 551.1,469.2 551.6,471.4 552.1,469.4 552.6,471.7 553.1,469.4 553.6,471.2 554.1,469.6M628.1,469.1V471.8M625.8,469.6 626.3,471.3 626.8,469.3 627.3,471.6 627.8,469.6 628.3,471.3 628.8,469.5 629.3,471.3 629.8,469.6M633.9,469.6 634.4,471.3 634.9,469.1 635.4,472.0 635.9,468.8 636.4,471.7 636.9,469.2 637.4,471.5 637.9,469.6M660.4,467.8V473.1M658.1,469.6 658.6,471.9 659.1,468.5 659.6,472.5 660.1,469.0 660.6,472.4 661.1,469.2 661.6,471.9 662.1,469.3M691.5,468.9V472.0M689.2,469.6 689.7,471.3 690.2,469.4 690.7,471.9 691.2,468.9 691.7,471.9 692.2,469.5 692.7,471.2 693.2,469.6M765.2,468.6V472.2M762.9,469.6 763.4,471.5 763.9,468.9 764.4,472.5 764.9,468.7 765.4,471.9 765.9,469.1 766.4,471.4 766.9,469.6M771.3,469.6 771.8,471.2 772.3,469.0 772.8,472.0 773.3,469.0 773.8,471.7 774.3,469.5 774.8,471.2 775.3,469.6M786.8,469.1V471.8M784.5,469.6 785.0,471.4 785.5,469.6 786.0,472.2 786.5,468.9 787.0,471.7 787.5,469.6 788.0,471.2 788.5,469.6M140.2,493.4V496.1M137.9,494.0 138.4,495.6 138.9,493.5 139.4,496.4 139.9,493.9 140.4,496.0 140.9,494.0 141.4,495.6 141.9,494.0M242.7,494.0 243.2,495.6 243.7,494.0 244.2,495.9 244.7,493.5 245.2,495.6 245.7,494.0 246.2,495.6 246.7,494.0M285.7,494.0 286.2,495.6 286.7,494.0 287.2,496.0 287.7,493.6 288.2,496.4 288.7,493.0 289.2,495.8 289.7,493.9 290.2,495.8 290.7,493.7 291.2,495.7 291.7,493.8 292.2,495.6 292.7,494.0 293.2,495.8 293.7,493.7 294.2,495.6 294.7,494.0 295.2,495.7 295.7,494.0 296.2,495.6M320.2,494.0 320.7,495.6 321.2,493.4 321.7,496.4 322.2,493.4 322.7,495.9 323.2,494.0 323.7,495.8 324.2,494.0M383.7,493.0V496.6M381.4,494.0 381.9,495.6 382.4,493.5 382.9,496.6 383.4,493.6 383.9,495.6 384.4,493.4 384.9,496.0 385.4,493.8M509.7,494.0 510.2,495.6 510.7,493.9 511.2,495.8 511.7,493.8 512.2,496.3 512.7,493.2 513.2,496.5 513.7,493.9 514.2,496.0 514.7,493.9 515.2,496.2 515.7,493.6 516.2,495.7 516.7,493.6 517.2,495.8 517.7,494.0 518.2,495.6 518.7,494.0 519.2,495.6 519.7,494.0 520.2,495.6M519.5,494.0 520.0,495.7 520.5,493.3 521.0,496.4 521.5,493.3 522.0,495.6 522.5,493.8 523.0,495.7 523.5,494.0M704.4,493.4V496.1M700.6,494.0 701.1,495.6 701.6,493.9 702.1,495.6 702.6,493.7 703.1,496.0 703.6,493.3 704.1,495.6 704.6,493.8 705.1,496.1 705.6,494.0 706.1,495.8 706.6,493.6 707.1,495.7 707.6,493.9 708.1,495.6 708.6,493.9 709.1,495.6M686.1,494.0 686.6,495.6 687.1,494.0 687.6,496.0 688.1,493.9 688.6,495.7 689.1,493.9 689.6,495.6 690.1,494.0M359.3,518.3 359.8,519.9 360.3,518.3 360.8,520.2 361.3,518.1 361.8,519.9 362.3,518.2 362.8,519.9 363.3,518.3M371.2,518.3 371.7,519.9 372.2,518.3 372.7,520.8 373.2,517.7 373.7,520.4 374.2,518.3 374.7,520.0 375.2,518.3M541.5,517.8V520.5M539.2,518.3 539.7,519.9 540.2,518.3 540.7,520.6 541.2,518.0 541.7,520.3 542.2,518.1 542.7,519.9 543.2,518.3M550.1,518.3 550.6,519.9 551.1,518.3 551.6,520.4 552.1,518.0 552.6,520.2 553.1,518.3 553.6,519.9 554.1,518.3M595.8,518.3 596.3,519.9 596.8,518.3 597.3,520.4 597.8,518.3 598.3,519.9 598.8,518.3 599.3,519.9 599.8,518.3M237.4,542.7 237.9,544.3 238.4,542.7 238.9,544.5 239.4,542.1 239.9,544.5 240.4,542.2 240.9,545.1 241.4,542.3 241.9,544.3 242.4,542.1 242.9,544.8 243.4,542.3 243.9,544.6 244.4,542.7 244.9,544.3 245.4,542.7 245.9,544.3M216.1,542.7 216.6,544.3 217.1,542.7 217.6,544.5 218.1,542.7 218.6,544.3 219.1,542.7 219.6,544.3 220.1,542.7M277.0,542.7 277.5,544.3 278.0,542.3 278.5,544.8 279.0,542.7 279.5,544.3 280.0,542.7 280.5,544.3 281.0,542.7M357.7,542.7 358.2,544.3 358.7,542.6 359.2,544.7 359.7,542.6 360.2,544.6 360.7,542.6 361.2,544.3 361.7,542.7M424.4,542.1V544.8M420.6,542.7 421.1,544.3 421.6,542.6 422.1,544.3 422.6,542.2 423.1,544.6 423.6,542.4 424.1,544.8 424.6,542.6 425.1,544.8 425.6,542.6 426.1,544.5 426.6,542.4 427.1,544.4 427.6,542.5 428.1,544.3 428.6,542.7 429.1,544.3M551.1,542.7 551.6,544.5 552.1,542.2 552.6,545.2 553.1,542.0 553.6,544.7 554.1,542.2 554.6,544.3 555.1,542.7M560.8,542.7 561.3,544.3 561.8,542.4 562.3,544.8 562.8,542.7 563.3,544.3 563.8,542.6 564.3,544.3 564.8,542.7M619.2,542.1V544.8M616.9,542.7 617.4,544.3 617.9,542.2 618.4,545.3 618.9,542.6 619.4,544.6 619.9,542.5 620.4,544.3 620.9,542.7M697.5,542.7 698.0,544.8 698.5,541.6 699.0,545.4 699.5,541.5 700.0,545.1 700.5,542.0 701.0,544.8 701.5,542.7M738.3,542.7 738.8,544.3 739.3,542.0 739.8,545.4 740.3,542.3 740.8,544.7 741.3,542.2 741.8,544.5 742.3,542.7M190.5,567.0 191.0,568.6 191.5,567.0 192.0,569.1 192.5,566.9 193.0,569.0 193.5,566.2 194.0,568.8 194.5,566.2 195.0,569.3 195.5,566.9 196.0,569.1 196.5,567.0 197.0,568.9 197.5,567.0 198.0,568.6 198.5,566.9 199.0,568.7 199.5,566.9 200.0,568.7 200.5,567.0 201.0,568.6M244.3,566.0V569.6M240.5,567.0 241.0,568.6 241.5,566.9 242.0,568.7 242.5,566.7 243.0,569.3 243.5,565.7 244.0,569.4 244.5,566.0 245.0,569.3 245.5,566.3 246.0,568.9 246.5,566.6 247.0,569.2 247.5,567.0 248.0,568.9 248.5,567.0 249.0,568.6 249.5,567.0 250.0,568.6 250.5,567.0 251.0,568.6M435.6,567.0 436.1,568.6 436.6,567.0 437.1,569.2 437.6,566.7 438.1,568.9 438.6,567.0 439.1,568.6 439.6,567.0M506.1,567.0 506.6,568.8 507.1,566.4 507.6,569.7 508.1,567.0 508.6,568.6 509.1,566.9 509.6,568.7 510.1,567.0M533.3,567.0 533.8,568.6 534.3,566.3 534.8,569.1 535.3,566.6 535.8,568.7 536.3,566.6 536.8,568.6 537.3,567.0M628.8,567.0 629.3,568.6 629.8,566.7 630.3,569.2 630.8,566.6 631.3,568.6 631.8,566.9 632.3,568.6 632.8,567.0M740.3,567.0 740.8,568.6 741.3,566.9 741.8,569.0 742.3,566.6 742.8,568.9 743.3,566.9 743.8,568.6 744.3,567.0M803.7,566.5V569.2M801.4,567.0 801.9,568.6 802.4,566.9 802.9,569.6 803.4,566.4 803.9,569.0 804.4,566.8 804.9,568.6 805.4,567.0M224.0,590.4V593.5M221.7,591.4 222.2,593.1 222.7,591.3 223.2,593.3 223.7,590.4 224.2,593.1 224.7,591.1 225.2,592.9 225.7,591.4M185.5,591.4 186.0,592.9 186.5,591.2 187.0,593.5 187.5,591.2 188.0,593.2 188.5,591.4 189.0,592.9 189.5,591.4M334.1,591.4 334.6,592.9 335.1,591.2 335.6,593.3 336.1,591.4 336.6,593.1 337.1,591.2 337.6,592.9 338.1,591.4M433.5,591.4 434.0,592.9 434.5,591.3 435.0,593.2 435.5,590.7 436.0,593.6 436.5,591.0 437.0,593.1 437.5,591.2M483.9,591.4 484.4,592.9 484.9,591.3 485.4,593.6 485.9,590.9 486.4,593.1 486.9,591.3 487.4,592.9 487.9,591.4M557.0,591.4 557.5,593.0 558.0,590.5 558.5,594.3 559.0,590.3 559.5,593.9 560.0,591.4 560.5,593.0 561.0,591.4M632.4,591.4 632.9,593.0 633.4,591.3 633.9,593.4 634.4,591.2 634.9,593.5 635.4,590.3 635.9,593.5 636.4,590.5 636.9,593.6 637.4,590.8 637.9,592.9 638.4,591.1 638.9,593.5 639.4,591.2 639.9,593.0 640.4,591.0 640.9,593.1 641.4,591.2 641.9,592.9 642.4,591.4 642.9,592.9M754.0,591.4 754.5,592.9 755.0,591.4 755.5,593.5 756.0,591.4 756.5,592.9 757.0,591.4 757.5,593.0 758.0,591.4" fill="none" stroke="#0000ff" stroke-width="0.7"/>
</g>
<path d="M106.6,45.5H111.5M106.6,57.5H111.5M106.6,69.5H111.5M106.6,81.5H111.5M106.6,93.5H111.5M106.6,105.5H111.5M106.6,118.5H111.5M106.6,130.5H111.5M106.6,142.5H111.5M106.6,154.5H111.5M106.6,166.5H111.5M106.6,178.5H111.5M106.6,191.5H111.5M106.6,203.5H111.5M106.6,215.5H111.5M106.6,227.5H111.5M106.6,239.5H111.5M106.6,251.5H111.5M106.6,264.5H111.5M106.6,276.5H111.5M106.6,288.5H111.5M106.6,300.5H111.5M106.6,312.5H111.5M106.6,325.5H111.5M106.6,337.5H111.5M106.6,349.5H111.5M106.6,361.5H111.5M106.6,373.5H111.5M106.6,385.5H111.5M106.6,398.5H111.5M106.6,410.5H111.5M106.6,422.5H111.5M106.6,434.5H111.5M106.6,446.5H111.5M106.6,458.5H111.5M106.6,471.5H111.5M106.6,483.5H111.5M106.6,495.5H111.5M106.6,507.5H111.5M106.6,519.5H111.5M106.6,531.5H111.5M106.6,544.5H111.5M106.6,556.5H111.5M106.6,568.5H111.5M106.6,580.5H111.5M106.6,592.5H111.5M106.6,604.5H111.5M106.6,617.5H111.5M111.5,626.5V631.4M229.5,626.5V631.4M346.5,626.5V631.4M464.5,626.5V631.4M582.5,626.5V631.4M699.5,626.5V631.4M817.5,626.5V631.4" stroke="#000" stroke-width="1.1" fill="none"/>
<rect x="111.5" y="35.5" width="706.0" height="591.0" fill="none" stroke="#000" stroke-width="1.15"/>
<text x="100.8" y="48.65" class="tl" text-anchor="end">00:00</text>
<text x="100.8" y="60.82" class="tl" text-anchor="end">00:30</text>
<text x="100.8" y="72.99" class="tl" text-anchor="end">01:00</text>
<text x="100.8" y="85.16" class="tl" text-anchor="end">01:30</text>
<text x="100.8" y="97.33" class="tl" text-anchor="end">02:00</text>
<text x="100.8" y="109.50" class="tl" text-anchor="end">02:30</text>
<text x="100.8" y="121.67" class="tl" text-anchor="end">03:00</text>
<text x="100.8" y="133.84" class="tl" text-anchor="end">03:30</text>
<text x="100.8" y="146.01" class="tl" text-anchor="end">04:00</text>
<text x="100.8" y="158.18" class="tl" text-anchor="end">04:30</text>
<text x="100.8" y="170.35" class="tl" text-anchor="end">05:00</text>
<text x="100.8" y="182.52" class="tl" text-anchor="end">05:30</text>
<text x="100.8" y="194.69" class="tl" text-anchor="end">06:00</text>
<text x="100.8" y="206.86" class="tl" text-anchor="end">06:30</text>
<text x="100.8" y="219.03" class="tl" text-anchor="end">07:00</text>
<text x="100.8" y="231.20" class="tl" text-anchor="end">07:30</text>
<text x="100.8" y="243.37" class="tl" text-anchor="end">08:00</text>
<text x="100.8" y="255.54" class="tl" text-anchor="end">08:30</text>
<text x="100.8" y="267.71" class="tl" text-anchor="end">09:00</text>
<text x="100.8" y="279.88" class="tl" text-anchor="end">09:30</text>
<text x="100.8" y="292.05" class="tl" text-anchor="end">10:00</text>
<text x="100.8" y="304.22" class="tl" text-anchor="end">10:30</text>
<text x="100.8" y="316.39" class="tl" text-anchor="end">11:00</text>
<text x="100.8" y="328.56" class="tl" text-anchor="end">11:30</text>
<text x="100.8" y="340.73" class="tl" text-anchor="end">12:00</text>
<text x="100.8" y="352.90" class="tl" text-anchor="end">12:30</text>
<text x="100.8" y="365.07" class="tl" text-anchor="end">13:00</text>
<text x="100.8" y="377.24" class="tl" text-anchor="end">13:30</text>
<text x="100.8" y="389.41" class="tl" text-anchor="end">14:00</text>
<text x="100.8" y="401.58" class="tl" text-anchor="end">14:30</text>
<text x="100.8" y="413.75" class="tl" text-anchor="end">15:00</text>
<text x="100.8" y="425.92" class="tl" text-anchor="end">15:30</text>
<text x="100.8" y="438.09" class="tl" text-anchor="end">16:00</text>
<text x="100.8" y="450.26" class="tl" text-anchor="end">16:30</text>
<text x="100.8" y="462.43" class="tl" text-anchor="end">17:00</text>
<text x="100.8" y="474.60" class="tl" text-anchor="end">17:30</text>
<text x="100.8" y="486.77" class="tl" text-anchor="end">18:00</text>
<text x="100.8" y="498.94" class="tl" text-anchor="end">18:30</text>
<text x="100.8" y="511.11" class="tl" text-anchor="end">19:00</text>
<text x="100.8" y="523.28" class="tl" text-anchor="end">19:30</text>
<text x="100.8" y="535.45" class="tl" text-anchor="end">20:00</text>
<text x="100.8" y="547.62" class="tl" text-anchor="end">20:30</text>
<text x="100.8" y="559.79" class="tl" text-anchor="end">21:00</text>
<text x="100.8" y="571.96" class="tl" text-anchor="end">21:30</text>
<text x="100.8" y="584.13" class="tl" text-anchor="end">22:00</text>
<text x="100.8" y="596.30" class="tl" text-anchor="end">22:30</text>
<text x="100.8" y="608.47" class="tl" text-anchor="end">23:00</text>
<text x="100.8" y="620.64" class="tl" text-anchor="end">23:30</text>
<text x="112.20" y="643.8" class="tl" text-anchor="middle">0</text>
<text x="229.50" y="643.8" class="tl" text-anchor="middle">5</text>
<text x="346.50" y="643.8" class="tl" text-anchor="middle">10</text>
<text x="464.50" y="643.8" class="tl" text-anchor="middle">15</text>
<text x="582.50" y="643.8" class="tl" text-anchor="middle">20</text>
<text x="699.50" y="643.8" class="tl" text-anchor="middle">25</text>
<text x="816.70" y="643.8" class="tl" text-anchor="middle">30</text>
<text x="107.6" y="24.8" class="tt">06-11-2025</text>
<text x="819.6" y="24.8" class="tt" text-anchor="end">CA.MTJR..HNZ - High pass filtered @2Hz - Amplification: 1/3000</text>
<text x="464" y="659.8" class="xl" text-anchor="middle">time in minutes</text>
<text transform="translate(61.2,331.4) rotate(-90)" class="tt" text-anchor="middle">UTC (local time = UTC + 01:00)</text>
<text x="729.8" y="662.8" class="cp">©ICGC 2025</text>
</svg>
</body></html>
